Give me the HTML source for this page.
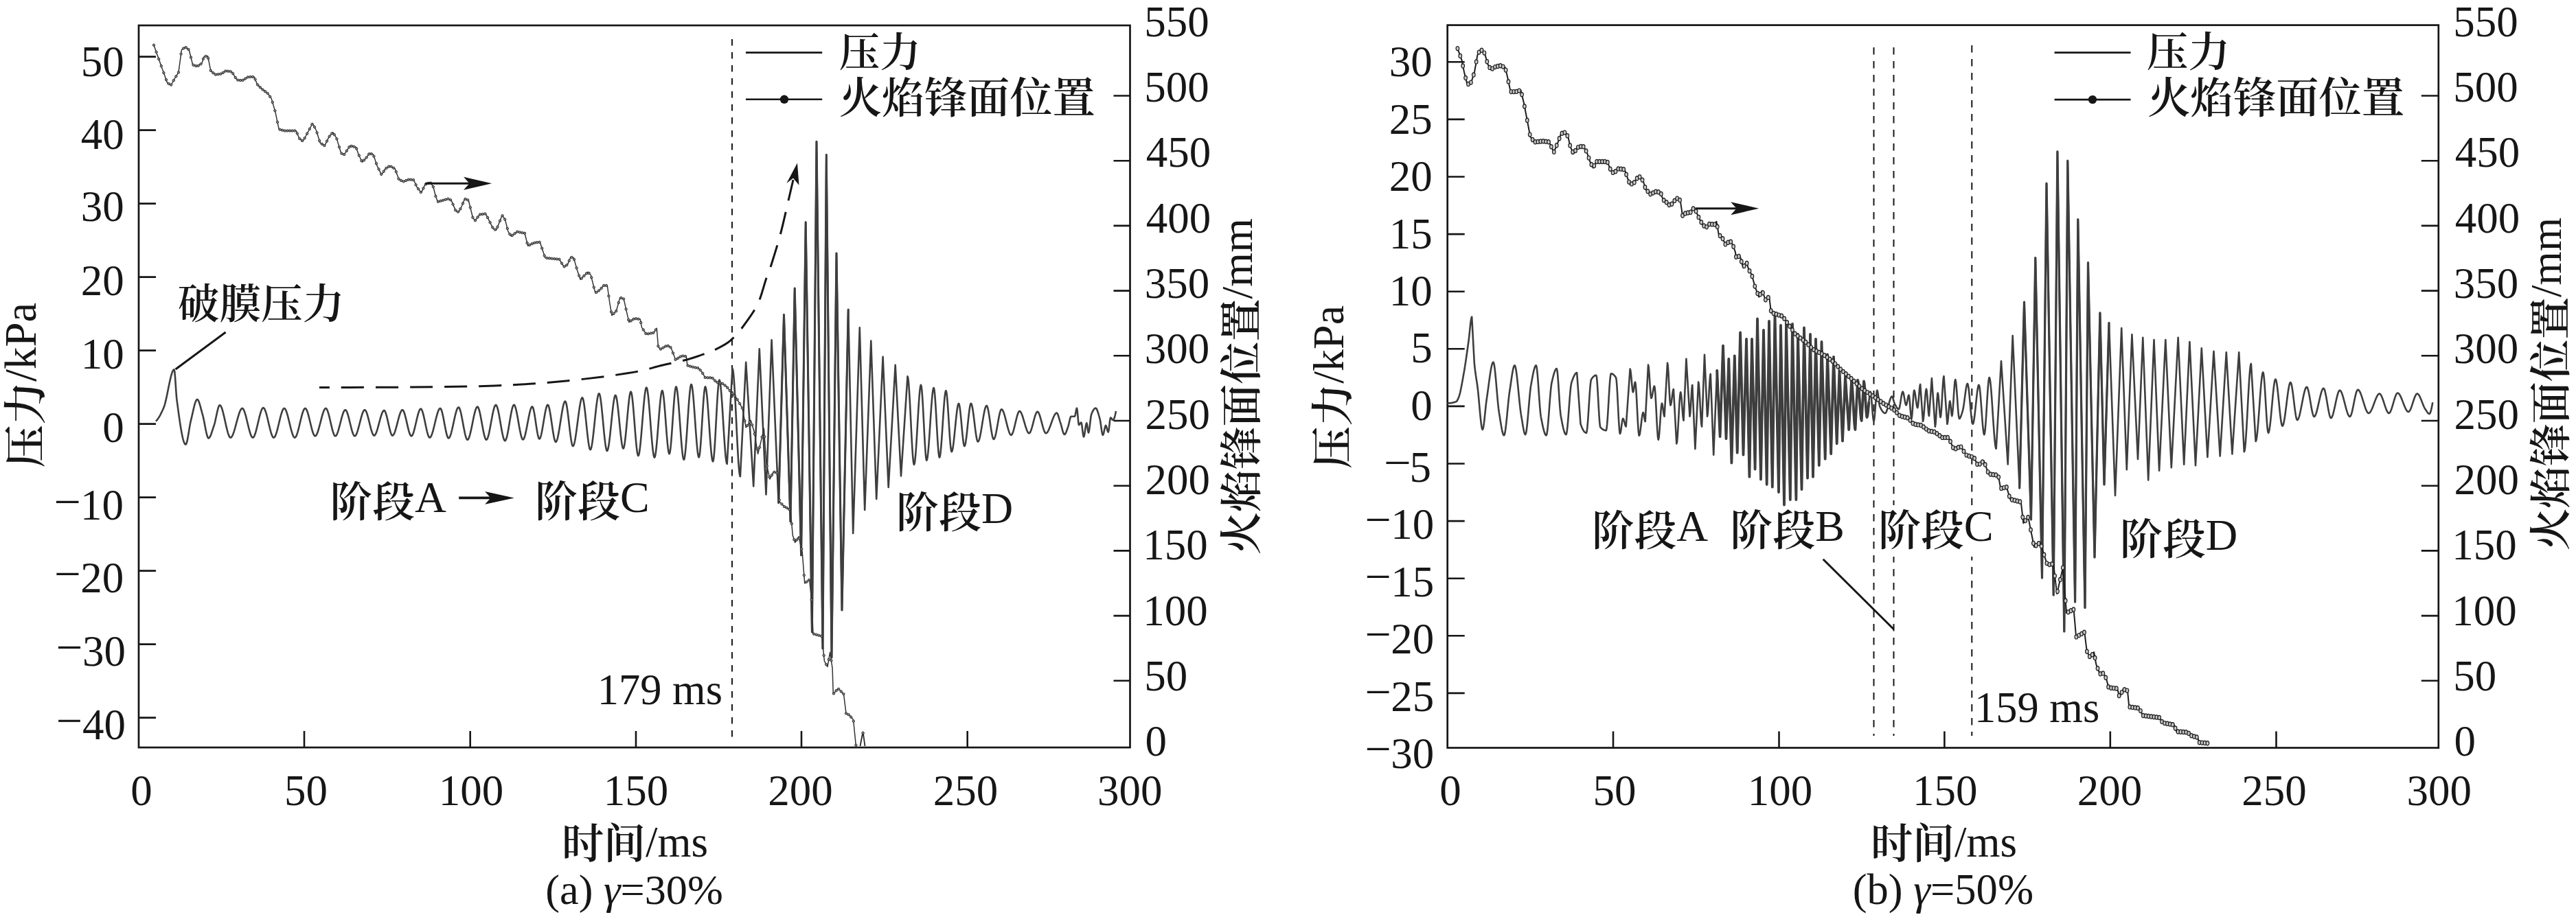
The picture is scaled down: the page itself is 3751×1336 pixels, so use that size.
<!DOCTYPE html><html><head><meta charset="utf-8"><title>figure</title><style>html,body{margin:0;padding:0;background:#fff;overflow:hidden}svg{display:block}</style></head><body><svg width="3751" height="1336" viewBox="0 0 3751 1336" font-family="'Liberation Serif', 'Noto Serif CJK SC', serif"><rect width="3751" height="1336" fill="#fff"/><rect x="202" y="37" width="1443.5" height="1052" fill="none" stroke="#161616" stroke-width="2.7"/>
<rect x="2107.7" y="36.6" width="1443.1" height="1052.9" fill="none" stroke="#161616" stroke-width="2.7"/>
<path d="M202,82.6h25 M202,189.6h25 M202,296.6h25 M202,403.6h25 M202,510.6h25 M202,617.6h25 M202,724.6h25 M202,831.6h25 M202,938.6h25 M202,1045.6h25 M443,1089v-24 M684.7,1089v-24 M926,1089v-24 M1167,1089v-24 M1408.7,1089v-24 M1645.5,991.8h-24 M3550.8,991.8h-25 M1645.5,897.1h-24 M3550.8,897.1h-25 M1645.5,802.4h-24 M3550.8,802.4h-25 M1645.5,707.7h-24 M3550.8,707.7h-25 M1645.5,613.0h-24 M3550.8,613.0h-25 M1645.5,518.3h-24 M3550.8,518.3h-25 M1645.5,423.6h-24 M3550.8,423.6h-25 M1645.5,328.9h-24 M3550.8,328.9h-25 M1645.5,234.2h-24 M3550.8,234.2h-25 M1645.5,139.5h-24 M3550.8,139.5h-25 M2107.7,90.3h25 M2107.7,173.9h25 M2107.7,257.5h25 M2107.7,341.1h25 M2107.7,424.7h25 M2107.7,508.3h25 M2107.7,591.9h25 M2107.7,675.5h25 M2107.7,759.1h25 M2107.7,842.7h25 M2107.7,926.3h25 M2107.7,1009.9h25 M2349,1089.5v-24 M2590.5,1089.5v-24 M2831.4,1089.5v-24 M3072.8,1089.5v-24 M3314.5,1089.5v-24" stroke="#161616" stroke-width="2.6" fill="none"/>
<line x1="1066" y1="57" x2="1066" y2="1078" stroke="#222" stroke-width="2.2" stroke-dasharray="9.6 9.4"/>
<line x1="2728.5" y1="69" x2="2728.5" y2="1072" stroke="#161616" stroke-width="2" stroke-dasharray="10.5 9.5"/>
<line x1="2757.5" y1="69" x2="2757.5" y2="1072" stroke="#161616" stroke-width="2" stroke-dasharray="10.5 9.5"/>
<line x1="2871.3" y1="66" x2="2871.3" y2="1072" stroke="#161616" stroke-width="2" stroke-dasharray="10.5 9.5"/>
<polyline points="226.9,613.7 227.6,613.0 228.3,612.3 229.0,611.4 229.7,610.5 230.4,609.5 231.1,608.4 231.8,607.3 232.5,606.1 233.2,604.8 233.9,603.5 234.6,602.1 235.3,600.7 236.0,599.2 236.7,597.7 237.4,596.1 238.1,594.6 238.3,594.1 239.0,592.3 239.7,590.1 240.4,587.7 241.1,584.9 241.8,581.9 242.5,578.7 243.2,575.4 243.9,572.0 244.6,568.5 245.3,565.1 246.0,561.6 246.7,558.2 247.4,555.0 248.1,551.9 248.8,549.0 249.5,546.4 250.2,544.1 250.9,542.1 251.6,540.5 252.3,539.3 253.0,538.6 253.6,538.4 254.3,541.5 255.0,549.3 255.7,559.7 256.4,570.4 257.1,579.2 257.4,581.9 258.1,587.2 258.8,592.4 259.5,597.6 260.2,602.7 260.9,607.7 261.6,612.6 262.3,617.2 263.0,621.7 263.7,625.9 264.4,629.8 265.1,633.4 265.8,636.7 266.5,639.6 267.2,642.1 267.9,644.2 268.6,645.8 269.3,646.9 270.0,647.5 270.4,647.6 271.1,647.0 271.8,645.3 272.5,642.7 273.2,639.3 273.9,635.5 274.6,631.3 275.3,626.9 276.0,622.6 276.7,618.6 277.4,615.0 278.0,612.4 278.7,609.6 279.4,606.6 280.1,603.5 280.8,600.4 281.5,597.3 282.2,594.3 282.9,591.5 283.6,588.9 284.3,586.6 285.0,584.7 285.7,583.3 286.4,582.3 287.1,581.9 287.2,581.9 287.9,582.2 288.6,583.1 289.3,584.5 290.0,586.3 290.7,588.5 291.4,590.9 292.1,593.4 292.8,596.1 293.5,598.7 294.2,601.3 294.8,603.3 295.5,605.9 296.2,608.9 296.9,612.3 297.6,615.8 298.3,619.5 299.0,623.2 299.7,626.7 300.4,630.0 301.1,632.9 301.8,635.3 302.5,637.1 303.2,638.2 303.7,638.4 304.4,638.2 305.1,637.4 305.8,636.3 306.5,634.9 307.2,633.2 307.9,631.3 308.6,629.2 309.3,627.0 310.0,624.8 310.7,622.6 311.4,620.6 311.6,620.0 312.3,617.8 313.0,615.1 313.7,612.0 314.4,608.8 315.1,605.5 315.8,602.2 316.5,599.1 317.2,596.3 317.9,593.8 318.6,592.0 319.3,590.7 320.0,590.3 320.7,590.6 321.4,591.4 322.1,592.6 322.8,594.3 323.5,596.3 324.2,598.6 324.9,601.2 325.6,604.1 326.3,607.0 327.0,610.1 327.7,613.3 328.4,616.4 329.1,619.6 329.8,622.6 330.5,625.5 331.2,628.2 331.9,630.6 332.6,632.8 333.3,634.6 334.0,636.1 334.7,637.0 335.4,637.5 335.7,637.6 336.4,637.4 337.1,636.8 337.8,635.8 338.5,634.5 339.2,633.0 339.9,631.1 340.6,629.1 341.3,626.9 342.0,624.5 342.7,622.0 343.4,619.4 344.1,616.8 344.8,614.2 345.5,611.6 346.2,609.1 346.9,606.6 347.6,604.3 348.3,602.2 349.0,600.3 349.7,598.6 350.4,597.2 351.1,596.1 351.8,595.3 352.5,594.9 352.8,594.9 353.5,595.2 354.2,595.9 354.9,597.1 355.6,598.7 356.3,600.6 357.0,602.8 357.7,605.2 358.4,607.9 359.1,610.7 359.8,613.5 360.5,616.5 361.2,619.4 361.9,622.2 362.6,625.0 363.3,627.6 364.0,630.0 364.7,632.2 365.4,634.1 366.1,635.6 366.8,636.7 367.5,637.4 368.1,637.6 368.8,637.3 369.5,636.6 370.2,635.4 370.9,633.8 371.6,631.8 372.3,629.6 373.0,627.1 373.7,624.4 374.4,621.5 375.1,618.6 375.8,615.6 376.5,612.7 377.2,609.7 377.9,606.9 378.6,604.3 379.3,601.8 380.0,599.6 380.7,597.7 381.4,596.1 382.1,595.0 382.8,594.3 383.4,594.1 384.1,594.4 384.8,595.1 385.5,596.4 386.2,598.0 386.9,600.0 387.6,602.2 388.3,604.7 389.0,607.5 389.7,610.3 390.4,613.3 391.1,616.3 391.8,619.3 392.5,622.2 393.2,625.0 393.9,627.7 394.6,630.1 395.3,632.3 396.0,634.2 396.7,635.7 397.4,636.8 398.1,637.5 398.6,637.6 399.3,637.3 400.0,636.6 400.7,635.4 401.4,633.8 402.1,631.9 402.8,629.7 403.5,627.3 404.2,624.6 404.9,621.8 405.6,619.0 406.3,616.0 407.0,613.1 407.7,610.3 408.4,607.5 409.1,604.9 409.8,602.5 410.5,600.3 411.2,598.4 411.9,596.9 412.6,595.8 413.3,595.1 413.9,594.9 414.6,595.2 415.3,595.9 416.0,597.1 416.7,598.7 417.4,600.6 418.1,602.8 418.8,605.2 419.5,607.9 420.2,610.7 420.9,613.5 421.6,616.5 422.3,619.4 423.0,622.2 423.7,625.0 424.4,627.6 425.1,630.0 425.8,632.2 426.5,634.1 427.2,635.6 427.9,636.7 428.6,637.4 429.2,637.6 429.9,637.3 430.6,636.6 431.3,635.4 432.0,633.8 432.7,631.9 433.4,629.6 434.1,627.1 434.8,624.5 435.5,621.7 436.2,618.8 436.9,615.8 437.6,612.9 438.3,610.0 439.0,607.2 439.7,604.6 440.4,602.2 441.1,600.1 441.8,598.2 442.5,596.7 443.2,595.7 443.9,595.0 444.4,594.9 445.1,595.2 445.8,596.0 446.5,597.2 447.2,598.8 447.9,600.8 448.6,603.1 449.3,605.6 450.0,608.3 450.7,611.2 451.4,614.1 452.1,617.0 452.8,619.9 453.5,622.7 454.2,625.3 454.9,627.8 455.6,630.0 456.3,631.9 457.0,633.4 457.7,634.5 458.4,635.2 458.9,635.3 459.6,635.1 460.3,634.4 461.0,633.3 461.7,631.8 462.4,630.1 463.1,628.0 463.8,625.7 464.5,623.3 465.2,620.7 465.9,618.0 466.6,615.3 467.3,612.6 468.0,609.9 468.7,607.3 469.4,604.8 470.1,602.5 470.8,600.4 471.5,598.6 472.2,597.1 472.9,596.0 473.6,595.2 474.3,594.9 474.4,594.9 475.1,595.2 475.8,596.0 476.5,597.4 477.2,599.2 477.9,601.3 478.6,603.7 479.3,606.4 480.0,609.3 480.7,612.3 481.4,615.3 482.1,618.4 482.8,621.3 483.5,624.2 484.2,626.8 484.9,629.2 485.6,631.3 486.3,633.0 487.0,634.3 487.7,635.1 488.3,635.3 489.0,635.0 489.7,634.3 490.4,633.1 491.1,631.6 491.8,629.7 492.5,627.6 493.2,625.2 493.9,622.6 494.6,620.0 495.3,617.2 496.0,614.5 496.7,611.8 497.4,609.1 498.1,606.6 498.8,604.3 499.5,602.2 500.2,600.4 500.9,599.0 501.6,597.9 502.3,597.3 502.8,597.2 503.5,597.5 504.2,598.3 504.9,599.6 505.6,601.3 506.3,603.3 507.0,605.6 507.7,608.2 508.4,610.9 509.1,613.8 509.8,616.7 510.5,619.5 511.2,622.4 511.9,625.1 512.6,627.6 513.3,629.8 514.0,631.8 514.7,633.3 515.4,634.5 516.1,635.2 516.6,635.3 517.3,635.0 518.0,634.3 518.7,633.1 519.4,631.6 520.1,629.7 520.8,627.6 521.5,625.2 522.2,622.6 522.9,620.0 523.6,617.2 524.3,614.5 525.0,611.8 525.7,609.1 526.4,606.6 527.1,604.3 527.8,602.2 528.5,600.4 529.2,599.0 529.9,597.9 530.6,597.3 531.1,597.2 531.8,597.5 532.5,598.3 533.2,599.6 533.9,601.2 534.6,603.3 535.3,605.6 536.0,608.1 536.7,610.8 537.4,613.7 538.1,616.5 538.8,619.4 539.5,622.1 540.2,624.8 540.9,627.2 541.6,629.4 542.3,631.3 543.0,632.8 543.7,633.9 544.4,634.5 544.8,634.6 545.5,634.4 546.2,633.6 546.9,632.5 547.6,631.0 548.3,629.2 549.0,627.2 549.7,624.9 550.4,622.4 551.1,619.9 551.8,617.2 552.5,614.6 553.2,612.0 553.9,609.4 554.6,607.0 555.3,604.8 556.0,602.8 556.7,601.1 557.4,599.7 558.1,598.7 558.8,598.1 559.3,598.0 560.0,598.3 560.7,599.3 561.4,600.9 562.1,602.9 562.8,605.3 563.5,608.0 564.2,611.0 564.9,614.1 565.6,617.2 566.3,620.3 567.0,623.3 567.7,626.2 568.4,628.7 569.1,630.9 569.8,632.7 570.5,633.9 571.2,634.5 571.5,634.6 572.2,634.3 572.9,633.6 573.6,632.5 574.3,631.0 575.0,629.1 575.7,627.0 576.4,624.7 577.1,622.2 577.8,619.6 578.5,616.9 579.2,614.2 579.9,611.5 580.6,608.9 581.3,606.4 582.0,604.2 582.7,602.1 583.4,600.4 584.1,599.0 584.8,597.9 585.5,597.3 586.0,597.2 586.7,597.5 587.4,598.4 588.1,599.9 588.8,601.7 589.5,604.0 590.2,606.6 590.9,609.4 591.6,612.3 592.3,615.4 593.0,618.4 593.7,621.5 594.4,624.4 595.1,627.1 595.8,629.5 596.5,631.6 597.2,633.3 597.9,634.5 598.6,635.2 599.0,635.3 599.7,635.0 600.4,634.1 601.1,632.8 601.8,631.0 602.5,628.9 603.2,626.4 603.9,623.7 604.6,620.8 605.3,617.8 606.0,614.8 606.7,611.8 607.4,608.8 608.1,606.0 608.8,603.4 609.5,601.1 610.2,599.1 610.9,597.5 611.6,596.3 612.3,595.7 612.7,595.6 613.4,596.0 614.1,597.0 614.8,598.5 615.5,600.6 616.2,603.1 616.9,605.9 617.6,609.0 618.3,612.3 619.0,615.6 619.7,619.0 620.4,622.3 621.1,625.5 621.8,628.5 622.5,631.2 623.2,633.5 623.9,635.4 624.6,636.7 625.3,637.5 625.7,637.6 626.4,637.3 627.1,636.6 627.8,635.4 628.5,633.8 629.2,631.9 629.9,629.7 630.6,627.3 631.3,624.6 632.0,621.8 632.7,619.0 633.4,616.0 634.1,613.1 634.8,610.3 635.5,607.5 636.2,604.9 636.9,602.5 637.6,600.3 638.3,598.4 639.0,596.9 639.7,595.8 640.4,595.1 641.0,594.9 641.7,595.3 642.4,596.5 643.1,598.3 643.8,600.7 644.5,603.6 645.2,606.8 645.9,610.3 646.6,614.0 647.3,617.7 648.0,621.4 648.7,625.0 649.4,628.4 650.1,631.4 650.8,634.0 651.5,636.1 652.2,637.6 652.9,638.3 653.2,638.4 653.9,638.1 654.6,637.2 655.3,635.8 656.0,634.0 656.7,631.8 657.4,629.3 658.1,626.5 658.8,623.4 659.5,620.3 660.2,617.1 660.9,613.8 661.6,610.6 662.3,607.5 663.0,604.5 663.7,601.8 664.4,599.3 665.1,597.2 665.8,595.5 666.5,594.3 667.2,593.6 667.7,593.4 668.4,593.8 669.1,594.9 669.8,596.7 670.5,599.0 671.2,601.8 671.9,605.0 672.6,608.5 673.3,612.2 674.0,616.0 674.7,619.8 675.4,623.5 676.1,627.1 676.8,630.5 677.5,633.5 678.2,636.1 678.9,638.2 679.6,639.7 680.3,640.6 680.7,640.7 681.4,640.4 682.1,639.4 682.8,638.0 683.5,636.0 684.2,633.6 684.9,630.9 685.6,627.9 686.3,624.7 687.0,621.4 687.7,617.9 688.4,614.4 689.1,611.0 689.8,607.6 690.5,604.5 691.2,601.6 691.9,598.9 692.6,596.7 693.3,594.9 694.0,593.5 694.7,592.8 695.2,592.6 695.9,593.0 696.6,594.2 697.3,596.0 698.0,598.3 698.7,601.2 699.4,604.4 700.1,607.9 700.8,611.7 701.5,615.5 702.2,619.4 702.9,623.2 703.6,626.9 704.3,630.3 705.0,633.4 705.7,636.0 706.4,638.2 707.1,639.7 707.8,640.6 708.2,640.7 708.9,640.3 709.6,639.2 710.3,637.5 711.0,635.3 711.7,632.6 712.4,629.5 713.1,626.1 713.8,622.4 714.5,618.6 715.2,614.8 715.9,611.0 716.6,607.2 717.3,603.6 718.0,600.3 718.7,597.3 719.4,594.7 720.1,592.6 720.8,591.1 721.5,590.2 722.0,590.0 722.7,590.4 723.4,591.6 724.1,593.4 724.8,595.9 725.5,598.8 726.2,602.1 726.9,605.8 727.6,609.7 728.3,613.7 729.0,617.8 729.7,621.8 730.4,625.8 731.1,629.4 731.8,632.8 732.5,635.8 733.2,638.3 733.9,640.3 734.6,641.6 735.3,642.1 735.4,642.1 736.1,641.7 736.8,640.4 737.5,638.4 738.2,635.9 738.9,632.8 739.6,629.3 740.3,625.4 741.0,621.3 741.7,617.2 742.4,612.9 743.1,608.8 743.8,604.8 744.5,601.1 745.2,597.7 745.9,594.9 746.6,592.5 747.3,590.9 748.0,589.9 748.4,589.8 749.1,590.2 749.8,591.4 750.5,593.3 751.2,595.7 751.9,598.7 752.6,602.1 753.3,605.7 754.0,609.6 754.7,613.7 755.4,617.7 756.1,621.7 756.8,625.5 757.5,629.1 758.2,632.4 758.9,635.2 759.6,637.5 760.3,639.2 761.0,640.2 761.5,640.4 762.2,640.0 762.9,639.0 763.6,637.3 764.3,635.1 765.0,632.4 765.7,629.4 766.4,626.0 767.1,622.5 767.8,618.8 768.5,615.1 769.2,611.4 769.9,607.8 770.6,604.4 771.3,601.2 772.0,598.5 772.7,596.1 773.4,594.3 774.1,593.0 774.8,592.4 775.0,592.4 775.7,593.0 776.4,594.7 777.1,597.4 777.8,600.8 778.5,604.8 779.2,609.2 779.9,613.9 780.6,618.7 781.3,623.3 782.0,627.7 782.7,631.6 783.4,634.9 784.1,637.5 784.8,639.0 785.4,639.5 786.1,639.0 786.8,637.7 787.5,635.6 788.2,632.8 788.9,629.6 789.6,625.9 790.3,621.9 791.0,617.7 791.7,613.4 792.4,609.2 793.1,605.1 793.8,601.3 794.5,597.8 795.2,594.8 795.9,592.4 796.6,590.7 797.3,589.9 797.6,589.8 798.3,590.4 799.0,591.9 799.7,594.4 800.4,597.6 801.1,601.4 801.8,605.7 802.5,610.3 803.2,615.1 803.9,620.0 804.6,624.7 805.3,629.3 806.0,633.4 806.7,637.1 807.4,640.1 808.1,642.3 808.8,643.6 809.3,643.9 810.0,643.5 810.7,642.2 811.4,640.1 812.1,637.5 812.8,634.3 813.5,630.6 814.2,626.6 814.9,622.3 815.6,617.8 816.3,613.3 817.0,608.8 817.7,604.4 818.4,600.2 819.1,596.3 819.8,592.8 820.5,589.8 821.2,587.4 821.9,585.7 822.6,584.7 823.0,584.6 823.7,585.3 824.4,587.4 825.1,590.5 825.8,594.7 826.5,599.5 827.2,605.0 827.9,610.8 828.6,616.9 829.3,622.9 830.0,628.8 830.7,634.3 831.4,639.3 832.1,643.5 832.8,646.8 833.5,649.1 834.2,650.0 834.3,650.0 835.0,649.5 835.7,647.9 836.4,645.5 837.1,642.2 837.8,638.4 838.5,633.9 839.2,629.1 839.9,623.9 840.6,618.5 841.3,613.1 842.0,607.7 842.7,602.4 843.4,597.4 844.1,592.8 844.8,588.6 845.5,585.1 846.2,582.3 846.9,580.4 847.6,579.4 847.9,579.3 848.6,580.1 849.3,582.3 850.0,585.8 850.7,590.3 851.4,595.6 852.1,601.6 852.8,608.1 853.5,614.8 854.2,621.6 854.9,628.3 855.6,634.7 856.3,640.5 857.0,645.6 857.7,649.8 858.4,653.0 859.1,654.8 859.6,655.2 860.3,654.5 861.0,652.4 861.7,649.2 862.4,645.0 863.1,639.9 863.8,634.2 864.5,628.0 865.2,621.4 865.9,614.7 866.6,607.9 867.3,601.3 868.0,595.0 868.7,589.2 869.4,584.1 870.1,579.7 870.8,576.4 871.5,574.1 872.2,573.2 872.3,573.2 873.0,574.1 873.7,576.5 874.4,580.3 875.1,585.3 875.8,591.2 876.5,597.8 877.2,605.0 877.9,612.4 878.6,619.9 879.3,627.3 880.0,634.3 880.7,640.8 881.4,646.4 882.1,651.1 882.8,654.5 883.5,656.6 884.0,657.0 884.7,656.2 885.4,654.0 886.1,650.6 886.8,646.1 887.5,640.8 888.2,634.8 888.9,628.2 889.6,621.4 890.3,614.4 891.0,607.5 891.7,600.8 892.4,594.5 893.1,588.9 893.8,584.0 894.5,580.1 895.2,577.3 895.9,575.9 896.2,575.8 896.9,576.6 897.6,579.0 898.3,582.7 899.0,587.6 899.7,593.3 900.4,599.7 901.1,606.5 901.8,613.6 902.5,620.8 903.2,627.7 903.9,634.3 904.6,640.2 905.3,645.3 906.0,649.3 906.7,652.1 907.4,653.4 907.6,653.5 908.3,652.5 909.0,649.8 909.7,645.6 910.4,640.1 911.1,633.7 911.8,626.5 912.5,618.8 913.2,610.9 913.9,603.1 914.6,595.5 915.3,588.5 916.0,582.3 916.7,577.2 917.4,573.3 918.1,571.1 918.6,570.6 919.3,571.7 920.0,574.9 920.7,579.8 921.4,586.2 922.1,593.7 922.8,602.0 923.5,610.8 924.2,619.9 924.9,628.9 925.6,637.4 926.3,645.3 927.0,652.2 927.7,657.8 928.4,661.7 929.1,663.8 929.4,664.0 930.1,663.0 930.8,660.2 931.5,655.8 932.2,650.1 932.9,643.2 933.6,635.6 934.3,627.3 935.0,618.6 935.7,609.9 936.4,601.2 937.1,592.9 937.8,585.3 938.5,578.4 939.2,572.7 939.9,568.3 940.6,565.5 941.3,564.5 942.0,565.6 942.7,568.5 943.4,573.2 944.1,579.2 944.8,586.4 945.5,594.5 946.2,603.2 946.9,612.2 947.6,621.4 948.3,630.3 949.0,638.9 949.7,646.7 950.4,653.6 951.1,659.3 951.8,663.5 952.5,666.0 953.0,666.5 953.7,665.4 954.4,662.4 955.1,657.6 955.8,651.5 956.5,644.2 957.2,636.1 957.9,627.4 958.6,618.4 959.3,609.4 960.0,600.6 960.7,592.4 961.4,585.0 962.1,578.6 962.8,573.7 963.5,570.4 964.2,569.0 964.3,569.0 965.0,570.2 965.7,573.6 966.4,578.9 967.1,585.7 967.8,593.7 968.5,602.5 969.2,611.7 969.9,621.1 970.6,630.3 971.3,638.9 972.0,646.5 972.7,652.9 973.4,657.7 974.1,660.6 974.6,661.2 975.3,659.8 976.0,655.9 976.7,649.9 977.4,642.2 978.1,633.2 978.8,623.3 979.5,613.0 980.2,602.7 980.9,592.8 981.6,583.7 982.3,575.7 983.0,569.5 983.7,565.2 984.4,563.4 984.5,563.4 985.2,564.6 985.9,567.9 986.6,573.1 987.3,579.8 988.0,587.7 988.7,596.6 989.4,606.1 990.1,615.9 990.8,625.7 991.5,635.3 992.2,644.3 992.9,652.4 993.6,659.3 994.3,664.7 995.0,668.3 995.7,669.8 995.8,669.8 996.5,668.5 997.2,664.7 997.9,659.0 998.6,651.5 999.3,642.7 1000.0,632.9 1000.7,622.5 1001.4,611.9 1002.1,601.3 1002.8,591.2 1003.5,581.9 1004.2,573.9 1004.9,567.3 1005.6,562.6 1006.3,560.2 1006.6,560.0 1007.3,561.2 1008.0,564.6 1008.7,570.0 1009.4,576.9 1010.1,585.0 1010.8,594.1 1011.5,603.9 1012.2,613.9 1012.9,623.9 1013.6,633.5 1014.3,642.5 1015.0,650.5 1015.7,657.2 1016.4,662.3 1017.1,665.4 1017.7,666.3 1018.4,664.6 1019.1,660.0 1019.8,652.9 1020.5,643.9 1021.2,633.5 1021.9,622.3 1022.6,610.7 1023.3,599.3 1024.0,588.6 1024.7,579.2 1025.4,571.5 1026.1,566.1 1026.8,563.5 1027.0,563.4 1027.7,564.6 1028.4,568.2 1029.1,573.6 1029.8,580.7 1030.5,589.1 1031.2,598.4 1031.9,608.4 1032.6,618.6 1033.3,628.9 1034.0,638.8 1034.7,648.0 1035.4,656.2 1036.1,663.1 1036.8,668.3 1037.5,671.5 1038.1,672.4 1038.8,670.5 1039.5,665.3 1040.2,657.3 1040.9,647.1 1041.6,635.3 1042.3,622.4 1043.0,609.2 1043.7,596.1 1044.4,583.8 1045.1,572.9 1045.8,563.9 1046.5,557.3 1047.2,554.0 1047.5,553.6 1048.2,555.0 1048.9,558.9 1049.6,564.9 1050.3,572.7 1051.0,582.0 1051.7,592.3 1052.4,603.3 1053.1,614.8 1053.8,626.2 1054.5,637.2 1055.2,647.5 1055.9,656.8 1056.6,664.6 1057.3,670.6 1058.0,674.5 1058.7,675.9 1058.7,675.9 1066.5,537.0 1067.2,538.7 1067.9,543.5 1068.6,551.0 1069.3,560.8 1070.0,572.4 1070.7,585.3 1071.4,599.2 1072.1,613.5 1072.8,628.0 1073.5,642.0 1074.2,655.3 1074.9,667.3 1075.6,677.6 1076.3,685.8 1077.0,691.4 1077.7,694.1 1077.9,694.2 1086.2,527.9 1097.2,708.4 1105.8,508.3 1115.5,720.4 1123.6,495.2 1133.7,733.0 1141.5,458.6 1151.0,760.0 1157.2,420.0 1166.6,809.0 1173.2,323.8 1182.4,921.0 1189.0,206.3 1198.0,945.0 1203.3,225.6 1211.0,958.0 1218.0,369.0 1226.0,889.0 1235.2,450.7 1242.2,777.0 1251.8,477.2 1259.2,743.0 1268.3,496.6 1276.2,727.0 1285.6,519.7 1293.7,710.0 1303.7,531.9 1312.0,693.5 1321.5,548.4 1322.2,550.4 1322.9,555.9 1323.6,564.5 1324.3,575.3 1325.0,587.9 1325.7,601.5 1326.4,615.7 1327.1,629.7 1327.8,643.0 1328.5,654.9 1329.2,664.8 1329.9,672.1 1330.6,676.2 1331.0,676.9 1331.7,675.3 1332.4,670.7 1333.1,663.7 1333.8,654.7 1334.5,644.2 1335.2,632.7 1335.9,620.6 1336.6,608.5 1337.3,596.8 1338.0,586.0 1338.7,576.5 1339.4,568.9 1340.1,563.5 1340.8,561.0 1341.0,560.9 1341.7,563.1 1342.4,569.2 1343.1,578.4 1343.8,590.0 1344.5,603.0 1345.2,616.8 1345.9,630.5 1346.6,643.4 1347.3,654.6 1348.0,663.5 1348.7,669.1 1349.3,670.7 1350.0,669.3 1350.7,665.4 1351.4,659.3 1352.1,651.5 1352.8,642.4 1353.5,632.3 1354.2,621.7 1354.9,610.9 1355.6,600.4 1356.3,590.6 1357.0,581.8 1357.7,574.5 1358.4,569.0 1359.1,565.7 1359.6,565.0 1360.3,567.0 1361.0,572.5 1361.7,580.9 1362.4,591.3 1363.1,603.2 1363.8,615.8 1364.5,628.3 1365.2,640.2 1365.9,650.6 1366.6,659.0 1367.3,664.5 1368.0,666.5 1368.0,666.5 1368.7,665.0 1369.4,660.7 1370.1,654.1 1370.8,645.7 1371.5,636.1 1372.2,625.6 1372.9,614.7 1373.6,604.0 1374.3,594.0 1375.0,585.0 1375.7,577.6 1376.4,572.3 1377.1,569.5 1377.4,569.2 1378.1,571.0 1378.8,575.9 1379.5,583.4 1380.2,592.8 1380.9,603.3 1381.6,614.5 1382.3,625.6 1383.0,636.1 1383.7,645.2 1384.4,652.3 1385.1,656.9 1385.7,658.2 1386.4,657.3 1387.1,654.7 1387.8,650.6 1388.5,645.4 1389.2,639.3 1389.9,632.6 1390.6,625.6 1391.3,618.4 1392.0,611.4 1392.7,604.8 1393.4,599.0 1394.1,594.1 1394.8,590.4 1395.5,588.3 1396.0,587.8 1396.7,589.0 1397.4,592.4 1398.1,597.5 1398.8,603.9 1399.5,611.2 1400.2,618.9 1400.9,626.6 1401.6,633.9 1402.3,640.3 1403.0,645.4 1403.7,648.8 1404.4,650.0 1404.4,650.0 1405.1,649.0 1405.8,646.3 1406.5,642.2 1407.2,637.0 1407.9,630.9 1408.6,624.3 1409.3,617.4 1410.0,610.6 1410.7,604.2 1411.4,598.5 1412.1,593.7 1412.8,590.1 1413.5,588.1 1413.9,587.8 1414.6,588.6 1415.3,590.7 1416.0,594.0 1416.7,598.3 1417.4,603.2 1418.1,608.7 1418.8,614.4 1419.5,620.2 1420.2,625.8 1420.9,631.0 1421.6,635.6 1422.3,639.3 1423.0,642.0 1423.7,643.4 1424.0,643.5 1424.7,643.0 1425.4,641.7 1426.1,639.6 1426.8,636.9 1427.5,633.6 1428.2,629.9 1428.9,625.9 1429.6,621.6 1430.3,617.2 1431.0,612.9 1431.7,608.6 1432.4,604.6 1433.1,600.9 1433.8,597.6 1434.5,594.9 1435.2,592.8 1435.9,591.5 1436.6,591.0 1437.3,591.6 1438.0,593.4 1438.7,596.2 1439.4,599.7 1440.1,603.9 1440.8,608.5 1441.5,613.4 1442.2,618.3 1442.9,623.2 1443.6,627.7 1444.3,631.8 1445.0,635.3 1445.7,637.9 1446.4,639.5 1447.0,640.0 1447.7,639.5 1448.4,638.2 1449.1,636.1 1449.8,633.4 1450.5,630.2 1451.2,626.6 1451.9,622.7 1452.6,618.7 1453.3,614.7 1454.0,610.8 1454.7,607.1 1455.4,603.8 1456.1,600.9 1456.8,598.6 1457.5,597.1 1458.2,596.3 1458.4,596.3 1459.1,596.6 1459.8,597.4 1460.5,598.6 1461.2,600.2 1461.9,602.2 1462.6,604.4 1463.3,606.9 1464.0,609.5 1464.7,612.2 1465.4,615.1 1466.1,617.9 1466.8,620.6 1467.5,623.2 1468.2,625.7 1468.9,627.9 1469.6,629.9 1470.3,631.5 1471.0,632.8 1471.7,633.5 1472.4,633.8 1473.1,633.5 1473.8,632.5 1474.5,631.1 1475.2,629.1 1475.9,626.9 1476.6,624.3 1477.3,621.5 1478.0,618.5 1478.7,615.5 1479.4,612.6 1480.1,609.7 1480.8,607.0 1481.5,604.6 1482.2,602.5 1482.9,600.8 1483.6,599.7 1484.3,599.1 1484.6,599.0 1485.3,599.2 1486.0,599.9 1486.7,601.0 1487.4,602.4 1488.1,604.1 1488.8,606.0 1489.5,608.2 1490.2,610.5 1490.9,612.8 1491.6,615.3 1492.3,617.7 1493.0,620.1 1493.7,622.3 1494.4,624.4 1495.1,626.4 1495.8,628.0 1496.5,629.4 1497.2,630.4 1497.9,631.0 1498.5,631.2 1499.2,630.9 1499.9,630.1 1500.6,628.7 1501.3,627.0 1502.0,624.9 1502.7,622.6 1503.4,620.1 1504.1,617.4 1504.8,614.7 1505.5,612.1 1506.2,609.5 1506.9,607.0 1507.6,604.9 1508.3,603.0 1509.0,601.5 1509.7,600.4 1510.4,599.9 1510.7,599.8 1511.4,600.1 1512.1,600.9 1512.8,602.2 1513.5,603.9 1514.2,606.0 1514.9,608.3 1515.6,610.8 1516.3,613.4 1517.0,616.1 1517.7,618.7 1518.4,621.3 1519.1,623.7 1519.8,625.9 1520.5,627.8 1521.2,629.4 1521.9,630.5 1522.6,631.1 1523.0,631.2 1523.7,631.0 1524.4,630.5 1525.1,629.8 1525.8,628.7 1526.5,627.4 1527.2,626.0 1527.9,624.3 1528.6,622.6 1529.3,620.7 1530.0,618.8 1530.7,616.8 1531.4,614.8 1532.1,612.9 1532.8,611.0 1533.5,609.2 1534.2,607.5 1534.9,606.0 1535.6,604.6 1536.3,603.5 1537.0,602.6 1537.7,601.9 1538.4,601.6 1538.7,601.6 1539.4,602.0 1540.1,603.2 1540.8,605.0 1541.5,607.2 1542.2,609.6 1542.9,612.0 1543.6,614.3 1544.0,615.5 1544.7,617.7 1545.4,620.2 1546.1,622.9 1546.8,625.6 1547.5,628.1 1548.2,630.3 1548.9,631.9 1549.6,632.8 1550.0,633.0 1550.7,632.7 1551.4,631.8 1552.1,630.4 1552.8,628.7 1553.5,626.7 1554.2,624.7 1554.9,622.7 1555.3,621.6 1556.0,619.2 1556.7,616.2 1557.4,613.0 1558.1,610.0 1558.8,607.8 1559.5,606.8 1559.6,606.8 1560.3,606.8 1561.0,606.8 1561.7,606.8 1562.4,606.8 1563.1,606.8 1563.8,606.8 1564.5,606.8 1564.9,606.8 1565.6,605.2 1566.3,601.6 1567.0,597.6 1567.7,594.9 1568.0,594.6 1568.7,598.0 1569.4,605.6 1570.1,613.7 1570.8,618.7 1571.0,619.0 1571.7,618.6 1572.4,617.7 1573.1,616.6 1573.8,615.8 1574.4,615.5 1575.1,617.6 1575.8,622.6 1576.5,628.6 1577.2,633.8 1577.9,636.5 1578.0,636.5 1578.7,635.1 1579.4,631.5 1580.1,626.8 1580.8,622.0 1581.5,618.2 1582.2,616.4 1582.3,616.4 1583.0,618.7 1583.7,623.8 1584.4,628.6 1585.0,630.4 1585.7,628.7 1586.4,624.4 1587.1,618.6 1587.8,612.4 1588.5,607.0 1589.2,603.6 1589.3,603.3 1590.0,601.7 1590.7,600.1 1591.4,598.7 1592.1,597.5 1592.8,596.5 1593.5,595.6 1594.2,595.0 1594.9,594.7 1595.4,594.6 1596.1,594.9 1596.8,595.8 1597.5,597.2 1598.2,599.0 1598.9,601.1 1599.6,603.5 1600.3,606.0 1601.0,608.5 1601.5,610.3 1602.2,613.6 1602.9,618.2 1603.6,623.3 1604.3,628.0 1605.0,631.8 1605.7,633.7 1605.9,633.8 1606.6,632.8 1607.3,630.3 1608.0,627.1 1608.7,623.8 1609.4,621.2 1610.1,619.9 1610.2,619.9 1610.9,620.9 1611.6,623.3 1612.3,626.1 1613.0,628.5 1613.7,629.5 1614.4,627.3 1615.1,622.1 1615.8,615.9 1616.5,610.7 1617.2,608.5 1617.9,608.9 1618.6,609.7 1619.3,610.8 1620.0,611.6 1620.7,612.0 1621.4,611.6 1622.1,610.4 1622.8,608.5 1623.5,606.0 1624.2,603.0 1624.9,599.5 1625.0,599.0" fill="none" stroke="#3e3e3e" stroke-width="2.6" stroke-linejoin="round"/>
<polyline points="2107.5,587.5 2108.2,587.5 2108.9,587.5 2109.6,587.4 2110.3,587.4 2111.0,587.3 2111.7,587.3 2112.4,587.2 2113.1,587.1 2113.8,587.0 2114.5,586.8 2115.2,586.7 2115.9,586.5 2116.6,586.3 2117.3,586.2 2118.0,585.9 2118.7,585.7 2119.4,585.5 2120.1,585.2 2120.4,585.1 2121.1,584.6 2121.8,583.7 2122.5,582.4 2123.2,580.9 2123.9,579.3 2124.0,579.1 2124.7,577.2 2125.4,574.9 2126.1,572.1 2126.8,569.0 2127.5,565.6 2128.2,562.0 2128.9,558.3 2129.6,554.4 2130.3,550.5 2131.0,546.6 2131.2,545.5 2131.9,541.5 2132.6,537.3 2133.3,532.9 2134.0,528.4 2134.7,523.7 2135.4,518.8 2136.1,513.9 2136.8,509.0 2137.5,504.0 2138.2,499.0 2138.4,497.6 2139.1,491.9 2139.8,485.2 2140.5,478.3 2141.2,471.7 2141.9,466.3 2142.6,462.7 2143.2,461.6 2146.8,528.7 2147.5,535.7 2148.2,541.5 2148.9,546.5 2149.6,551.1 2150.3,555.5 2151.0,560.2 2151.6,564.7 2152.3,570.9 2153.0,578.0 2153.7,585.6 2154.4,593.6 2155.1,601.4 2155.8,608.7 2156.5,615.1 2157.2,620.4 2157.9,624.1 2158.6,625.8 2158.8,625.9 2159.5,624.7 2160.2,621.4 2160.9,616.5 2161.6,610.4 2162.3,603.7 2163.0,596.8 2163.7,590.2 2164.4,584.3 2164.8,581.5 2165.5,576.8 2166.2,571.8 2166.9,566.6 2167.6,561.4 2168.3,556.1 2169.0,551.0 2169.7,546.1 2170.4,541.6 2171.1,537.5 2171.8,534.0 2172.5,531.2 2173.2,529.1 2173.9,527.9 2174.4,527.6 2175.1,528.7 2175.8,531.8 2176.5,536.6 2177.2,542.8 2177.9,550.0 2178.6,557.8 2179.3,566.0 2180.0,574.2 2180.7,582.2 2181.4,589.4 2182.1,595.7 2182.8,600.7 2182.8,600.7 2183.5,605.0 2184.2,609.5 2184.9,614.0 2185.6,618.3 2186.3,622.4 2187.0,626.1 2187.7,629.2 2188.4,631.7 2189.1,633.4 2189.8,634.3 2190.0,634.3 2190.7,633.3 2191.4,630.6 2192.1,626.4 2192.8,621.0 2193.5,614.7 2194.2,607.8 2194.9,600.5 2195.6,593.2 2196.3,586.1 2197.0,579.5 2197.7,573.7 2198.3,569.5 2199.0,565.0 2199.7,560.2 2200.4,555.3 2201.1,550.5 2201.8,546.0 2202.5,541.8 2203.2,538.2 2203.9,535.3 2204.6,533.3 2205.3,532.4 2205.5,532.3 2206.2,533.1 2206.9,535.5 2207.6,539.3 2208.3,544.1 2209.0,549.8 2209.7,556.3 2210.4,563.1 2211.1,570.3 2211.8,577.5 2212.5,584.5 2213.2,591.1 2213.9,597.2 2214.6,602.4 2215.1,605.5 2215.8,609.6 2216.5,613.9 2217.2,618.3 2217.9,622.4 2218.6,626.1 2219.3,629.3 2220.0,631.6 2220.7,632.9 2221.1,633.1 2221.8,631.9 2222.5,628.7 2223.2,623.7 2223.9,617.4 2224.6,610.1 2225.3,602.0 2226.0,593.7 2226.7,585.4 2227.4,577.6 2228.1,570.4 2228.8,564.4 2229.5,559.9 2229.5,559.9 2230.2,556.2 2230.9,552.4 2231.6,548.7 2232.3,545.1 2233.0,541.8 2233.7,538.8 2234.4,536.3 2235.1,534.3 2235.8,533.0 2236.5,532.3 2236.7,532.3 2237.4,534.0 2238.1,538.6 2238.8,545.6 2239.5,554.2 2240.2,564.0 2240.9,574.2 2241.6,584.1 2242.3,593.3 2243.0,601.1 2243.7,606.7 2243.9,607.9 2244.6,611.5 2245.3,615.1 2246.0,618.5 2246.7,621.7 2247.4,624.7 2248.1,627.4 2248.8,629.7 2249.5,631.6 2250.2,633.1 2250.9,634.0 2251.6,634.3 2252.3,632.8 2253.0,628.8 2253.7,622.7 2254.4,615.0 2255.1,606.2 2255.8,596.8 2256.5,587.3 2257.2,578.3 2257.9,570.1 2258.6,563.3 2259.3,558.5 2259.5,557.5 2260.2,554.5 2260.9,551.5 2261.6,548.7 2262.3,546.1 2263.0,543.7 2263.7,541.6 2264.4,539.8 2265.1,538.5 2265.8,537.5 2266.5,537.1 2266.7,537.1 2267.4,539.3 2268.1,545.1 2268.8,553.7 2269.5,564.0 2270.2,575.0 2270.9,585.8 2271.6,595.4 2272.3,602.7 2272.7,605.5 2273.4,609.4 2274.1,613.1 2274.8,616.7 2275.5,620.1 2276.2,623.2 2276.9,626.0 2277.6,628.4 2278.3,630.4 2279.0,631.9 2279.7,632.8 2280.4,633.1 2280.4,633.1 2281.1,631.6 2281.8,627.4 2282.5,621.2 2283.2,613.3 2283.9,604.4 2284.6,594.9 2285.3,585.5 2286.0,576.5 2286.7,568.7 2287.4,562.4 2288.1,558.2 2288.3,557.5 2289.0,555.4 2289.7,553.4 2290.4,551.5 2291.1,549.8 2291.8,548.2 2292.5,546.8 2293.2,545.6 2293.9,544.6 2294.6,543.8 2295.3,543.3 2296.0,543.1 2296.2,543.1 2301.5,617.5 2302.2,619.5 2302.9,621.4 2303.6,623.1 2304.3,624.7 2305.0,626.0 2305.7,627.3 2306.4,628.3 2307.1,629.1 2307.8,629.8 2308.5,630.3 2309.2,630.6 2309.9,630.7 2309.9,630.7 2310.6,628.7 2311.3,623.3 2312.0,615.3 2312.7,605.5 2313.4,594.7 2314.1,583.6 2314.8,573.1 2315.5,564.0 2316.2,557.1 2316.9,553.2 2317.1,552.7 2317.8,551.7 2318.5,550.7 2319.2,549.8 2319.9,549.1 2320.6,548.4 2321.3,547.8 2322.0,547.4 2322.7,547.0 2323.4,546.8 2324.1,546.7 2324.3,546.7 2325.0,549.5 2325.7,556.8 2326.4,567.5 2327.1,579.9 2327.8,592.9 2328.5,605.0 2329.2,614.8 2329.9,620.9 2330.3,622.3 2331.0,623.1 2331.7,623.8 2332.4,624.4 2333.1,625.0 2333.8,625.5 2334.5,625.9 2335.2,626.3 2335.9,626.6 2336.6,626.8 2337.3,627.0 2338.0,627.1 2338.7,627.1 2339.4,624.9 2340.1,618.9 2340.8,610.1 2341.5,599.3 2342.2,587.4 2342.9,575.4 2343.6,564.2 2344.3,554.7 2345.0,547.9 2345.7,544.5 2345.9,544.3 2346.6,544.4 2347.3,544.5 2348.0,544.8 2348.7,545.2 2349.4,545.8 2350.1,546.4 2350.8,547.1 2351.5,548.0 2352.2,548.9 2352.9,550.0 2353.1,550.3 2353.8,554.4 2354.5,563.2 2355.2,575.4 2355.9,589.2 2356.6,603.3 2357.3,616.0 2358.0,625.9 2358.7,631.3 2359.0,631.9 2359.7,630.3 2360.4,626.4 2361.1,621.2 2361.8,615.9 2362.5,611.7 2363.2,609.7 2363.3,609.7 2364.0,610.5 2364.7,612.5 2365.4,615.2 2366.1,618.0 2366.8,620.2 2367.5,621.4 2367.7,621.5 2373.6,537.5 2374.3,539.8 2375.0,545.6 2375.7,553.3 2376.4,561.2 2377.1,567.7 2377.8,571.2 2378.0,571.4 2378.7,569.4 2379.4,564.7 2380.1,559.8 2380.8,556.8 2381.0,556.6 2381.7,559.7 2382.4,568.1 2383.1,579.9 2383.8,593.6 2384.5,607.6 2385.2,620.1 2385.9,629.6 2386.6,634.4 2386.8,634.7 2387.5,633.4 2388.2,629.9 2388.9,624.9 2389.6,619.0 2390.3,613.1 2391.0,607.6 2391.7,603.4 2392.4,601.1 2392.7,600.8 2393.4,602.6 2394.1,606.8 2394.8,611.2 2395.5,613.9 2395.7,614.1 2400.0,531.6 2400.7,534.8 2401.4,542.8 2402.1,553.5 2402.8,564.6 2403.5,574.1 2404.2,579.6 2404.5,580.2 2405.2,579.0 2405.9,576.1 2406.6,572.2 2407.3,568.2 2408.0,564.7 2408.7,562.7 2409.0,562.5 2409.7,565.6 2410.4,574.0 2411.1,585.8 2411.8,599.5 2412.5,613.5 2413.2,626.0 2413.9,635.5 2414.6,640.3 2414.8,640.6 2415.5,638.0 2416.2,631.1 2416.9,621.6 2417.6,611.0 2418.3,600.9 2419.0,592.7 2419.7,588.1 2420.0,587.6 2420.7,589.5 2421.4,594.0 2422.1,599.5 2422.8,604.3 2423.5,606.7 2423.6,606.7 2428.0,528.7 2428.7,532.7 2429.4,542.9 2430.1,556.5 2430.8,570.7 2431.5,582.7 2432.2,589.7 2432.5,590.5 2433.2,588.9 2433.9,584.9 2434.6,579.6 2435.3,574.1 2436.0,569.5 2436.7,567.1 2436.9,567.0 2441.3,646.5 2442.0,643.6 2442.7,635.8 2443.4,624.7 2444.1,611.8 2444.8,598.6 2445.5,586.5 2446.2,577.1 2446.9,572.0 2447.2,571.4 2447.9,574.2 2448.6,581.3 2449.3,590.6 2450.0,600.2 2450.7,608.1 2451.4,612.4 2451.6,612.6 2455.4,522.8 2460.5,606.7 2461.2,602.6 2461.9,592.7 2462.6,580.3 2463.3,568.8 2464.0,561.8 2464.3,561.0 2468.4,653.9 2473.1,556.6 2473.8,560.1 2474.5,569.0 2475.2,581.3 2475.9,594.9 2476.6,607.5 2477.3,617.0 2478.0,621.4 2478.1,621.5 2482.0,516.9 2486.0,606.7 2486.7,603.1 2487.4,594.0 2488.1,581.6 2488.8,568.1 2489.5,556.0 2490.2,547.6 2490.8,544.9 2495.2,662.7 2500.2,539.0 2504.6,636.2 2509.0,503.6 2513.5,639.1 2517.3,522.8 2521.4,674.5 2525.8,518.4 2529.7,659.7 2534.1,484.5 2538.5,662.7 2543.0,494.0 2547.4,694.7 2551.0,494.0 2555.6,683.5 2559.0,464.5 2564.0,698.4 2568.0,481.0 2572.7,705.8 2576.0,468.0 2580.8,709.5 2584.5,457.0 2590.0,717.0 2593.0,474.0 2598.0,735.5 2601.0,470.0 2606.8,728.0 2610.0,472.0 2615.4,728.0 2618.0,487.0 2623.5,713.0 2627.0,477.5 2632.0,696.5 2636.0,487.0 2640.0,694.7 2644.0,494.0 2648.8,678.0 2652.5,498.0 2657.7,668.7 2661.0,516.5 2666.2,661.3 2670.0,520.0 2674.7,646.4 2678.5,539.0 2683.0,642.7 2687.0,548.0 2692.2,626.0 2696.0,555.5 2696.7,558.6 2697.4,566.9 2698.1,578.5 2698.8,591.7 2699.5,604.8 2700.2,616.0 2700.9,623.7 2701.5,626.0 2705.0,553.6 2705.7,556.1 2706.4,562.6 2707.1,571.8 2707.8,582.5 2708.5,593.3 2709.2,602.8 2709.9,609.8 2710.6,612.9 2710.7,613.0 2714.0,555.5 2714.7,558.8 2715.4,567.1 2716.1,578.3 2716.8,590.2 2717.5,600.4 2718.2,606.9 2718.6,608.0 2719.3,605.9 2720.0,600.6 2720.7,593.3 2721.4,585.4 2722.1,578.1 2722.8,572.8 2723.5,570.7 2723.5,570.7 2724.2,573.0 2724.9,578.9 2725.6,587.1 2726.3,596.1 2727.0,604.5 2727.7,610.8 2728.4,613.7 2728.5,613.8 2729.2,611.3 2729.9,604.9 2730.6,596.0 2731.3,586.5 2732.0,577.6 2732.7,571.2 2733.4,568.7 2733.4,568.7 2734.1,570.5 2734.8,574.9 2735.5,580.6 2736.2,586.4 2736.9,590.8 2737.3,592.2 2738.0,593.7 2738.7,595.2 2739.4,596.5 2740.1,597.7 2740.8,598.8 2741.5,599.7 2742.2,600.5 2742.9,601.2 2743.6,601.6 2744.3,601.9 2745.0,602.0 2745.7,601.7 2746.4,600.7 2747.1,599.2 2747.8,597.3 2748.5,595.1 2749.2,592.7 2749.9,590.1 2750.6,587.6 2751.3,585.1 2752.0,582.8 2752.7,580.8 2753.4,579.2 2754.1,578.1 2754.8,577.5 2755.0,577.5 2755.7,578.2 2756.4,580.1 2757.1,582.6 2757.8,585.2 2758.5,587.4 2758.9,588.3 2759.6,589.6 2760.3,590.9 2761.0,592.2 2761.7,593.4 2762.4,594.4 2763.1,595.3 2763.8,595.9 2764.5,596.2 2764.8,596.2 2765.5,595.2 2766.2,592.6 2766.9,588.8 2767.6,584.4 2768.3,579.9 2769.0,575.8 2769.7,572.6 2770.4,570.9 2770.7,570.7 2771.4,571.8 2772.1,574.6 2772.8,578.4 2773.5,582.6 2774.2,586.4 2774.9,589.2 2775.6,590.3 2775.6,590.3 2776.3,589.0 2777.0,586.0 2777.7,582.1 2778.4,578.4 2779.1,576.0 2779.5,575.6 2780.2,578.5 2780.9,585.7 2781.6,594.8 2782.3,603.3 2783.0,609.0 2783.4,610.0 2784.1,606.5 2784.8,597.9 2785.5,587.0 2786.2,576.7 2786.9,569.9 2787.3,568.7 2788.0,570.1 2788.7,573.8 2789.4,578.7 2790.1,584.2 2790.8,589.1 2791.5,592.8 2792.2,594.2 2792.9,591.4 2793.6,584.5 2794.3,575.8 2795.0,567.3 2795.7,561.4 2796.2,559.9 2800.0,613.8 2800.7,611.3 2801.4,604.8 2802.1,595.9 2802.8,586.0 2803.5,576.9 2804.2,569.9 2804.9,566.8 2805.0,566.7 2805.7,569.9 2806.4,577.8 2807.1,587.8 2807.8,597.5 2808.5,604.3 2809.0,606.0 2812.9,551.0 2817.8,621.7 2818.5,617.5 2819.2,607.3 2819.9,594.3 2820.6,582.1 2821.3,574.0 2821.7,572.6 2822.4,575.6 2823.1,583.0 2823.8,592.3 2824.5,601.1 2825.2,607.0 2825.6,608.0 2826.3,604.7 2827.0,596.1 2827.7,584.4 2828.4,571.6 2829.1,559.9 2829.8,551.3 2830.5,548.0 2830.5,548.0 2835.4,617.8 2836.1,615.1 2836.8,608.4 2837.5,599.8 2838.2,591.6 2838.9,585.8 2839.4,584.4 2840.1,587.6 2840.8,594.6 2841.5,602.0 2842.2,605.9 2842.3,606.0 2843.0,603.1 2843.7,595.5 2844.4,585.1 2845.1,573.9 2845.8,563.5 2846.5,555.9 2847.2,553.0 2847.9,555.3 2848.6,561.4 2849.3,570.0 2850.0,580.0 2850.7,590.2 2851.4,599.4 2852.1,606.3 2852.8,609.8 2853.0,610.0 2853.7,609.6 2854.4,608.7 2855.1,607.1 2855.8,605.2 2856.5,603.1 2857.2,600.8 2857.9,598.4 2858.0,598.1 2858.7,595.1 2859.4,591.0 2860.1,586.1 2860.8,580.7 2861.5,575.3 2862.2,570.1 2862.9,565.5 2863.6,561.9 2864.3,559.6 2864.9,558.9 2865.6,560.2 2866.3,563.9 2867.0,569.4 2867.7,576.2 2868.4,583.8 2869.1,591.7 2869.8,599.4 2870.5,606.4 2871.2,612.1 2871.9,616.1 2872.6,617.8 2872.7,617.8 2873.4,616.8 2874.1,613.9 2874.8,609.6 2875.5,604.2 2876.2,597.9 2876.9,591.2 2877.6,584.5 2878.3,577.9 2879.0,572.0 2879.7,567.0 2880.4,563.2 2881.1,561.1 2881.5,560.8 2882.2,562.4 2882.9,567.0 2883.6,573.7 2884.3,582.1 2885.0,591.5 2885.7,601.2 2886.4,610.7 2887.1,619.3 2887.8,626.3 2888.5,631.2 2889.2,633.3 2889.3,633.3 2890.0,631.2 2890.7,625.5 2891.4,617.0 2892.1,606.5 2892.8,595.0 2893.5,583.3 2894.2,572.1 2894.9,562.4 2895.6,555.0 2896.3,550.7 2896.7,550.0 2897.4,551.5 2898.1,555.5 2898.8,561.8 2899.5,569.8 2900.2,579.2 2900.9,589.5 2901.6,600.3 2902.3,611.1 2903.0,621.6 2903.7,631.3 2904.4,639.8 2905.1,646.6 2905.8,651.3 2906.5,653.6 2906.7,653.7 2914.0,526.0 2923.7,676.5 2930.7,489.0 2940.7,711.5 2947.5,440.0 2957.5,757.0 2963.8,375.6 2973.5,842.0 2980.0,267.2 2990.2,867.0 2995.9,220.8 3005.8,920.0 3010.8,234.2 3021.6,877.0 3025.8,319.7 3036.0,885.5 3040.5,382.6 3050.0,812.0 3057.9,455.9 3064.0,706.0 3071.0,470.0 3080.0,722.0 3089.2,478.0 3096.8,684.3 3104.4,487.3 3113.0,669.0 3120.3,491.9 3128.2,699.5 3136.5,495.0 3144.1,685.8 3153.3,495.0 3161.8,681.2 3171.6,491.9 3180.2,676.6 3188.4,498.0 3197.0,678.2 3205.8,507.2 3214.4,666.0 3223.5,511.8 3232.7,664.4 3241.8,513.3 3250.4,661.4 3260.2,513.3 3267.8,658.3 3268.5,656.5 3269.2,651.6 3269.9,644.0 3270.6,634.2 3271.3,622.8 3272.0,610.2 3272.7,597.0 3273.4,583.7 3274.1,570.8 3274.8,558.8 3275.5,548.3 3276.2,539.7 3276.9,533.5 3277.6,530.3 3277.9,530.0 3284.6,643.0 3285.3,641.8 3286.0,638.3 3286.7,632.9 3287.4,625.9 3288.1,617.7 3288.8,608.6 3289.5,599.0 3290.2,589.1 3290.9,579.4 3291.6,570.1 3292.3,561.6 3293.0,554.3 3293.7,548.4 3294.4,544.3 3295.1,542.4 3295.3,542.3 3296.0,544.4 3296.7,550.0 3297.4,558.4 3298.1,568.9 3298.8,580.5 3299.5,592.5 3300.2,604.1 3300.9,614.6 3301.6,623.0 3302.3,628.6 3303.0,630.7 3303.7,629.7 3304.4,626.8 3305.1,622.4 3305.8,616.7 3306.5,610.1 3307.2,602.7 3307.9,595.0 3308.6,587.1 3309.3,579.4 3310.0,572.1 3310.7,565.6 3311.4,560.1 3312.1,555.9 3312.8,553.3 3313.4,552.5 3314.1,553.4 3314.8,556.1 3315.5,560.1 3316.2,565.3 3316.9,571.4 3317.6,578.1 3318.3,585.1 3319.0,592.1 3319.7,599.0 3320.4,605.4 3321.1,611.0 3321.8,615.6 3322.5,618.8 3323.2,620.5 3323.5,620.7 3324.2,620.1 3324.9,618.2 3325.6,615.4 3326.3,611.6 3327.0,607.2 3327.7,602.2 3328.4,596.9 3329.1,591.3 3329.8,585.6 3330.5,580.0 3331.2,574.7 3331.9,569.8 3332.6,565.5 3333.3,561.9 3334.0,559.1 3334.7,557.5 3335.3,557.0 3336.0,557.8 3336.7,560.0 3337.4,563.5 3338.1,567.9 3338.8,573.0 3339.5,578.6 3340.2,584.4 3340.9,590.3 3341.6,595.9 3342.3,601.0 3343.0,605.4 3343.7,608.9 3344.4,611.1 3345.1,611.9 3345.8,611.5 3346.5,610.5 3347.2,608.9 3347.9,606.8 3348.6,604.2 3349.3,601.2 3350.0,598.0 3350.7,594.6 3351.4,591.0 3352.1,587.3 3352.8,583.7 3353.5,580.1 3354.2,576.7 3354.9,573.6 3355.6,570.7 3356.3,568.3 3357.0,566.3 3357.7,564.8 3358.4,564.0 3358.9,563.8 3359.6,564.3 3360.3,565.8 3361.0,568.1 3361.7,571.0 3362.4,574.5 3363.1,578.3 3363.8,582.4 3364.5,586.6 3365.2,590.7 3365.9,594.7 3366.6,598.4 3367.3,601.5 3368.0,604.1 3368.7,606.0 3369.4,606.9 3369.7,607.0 3370.4,606.7 3371.1,605.8 3371.8,604.4 3372.5,602.5 3373.2,600.3 3373.9,597.7 3374.6,594.9 3375.3,591.9 3376.0,588.8 3376.7,585.7 3377.4,582.5 3378.1,579.5 3378.8,576.5 3379.5,573.8 3380.2,571.4 3380.9,569.3 3381.6,567.7 3382.3,566.5 3383.0,565.8 3383.4,565.7 3384.1,566.2 3384.8,567.7 3385.5,570.0 3386.2,572.9 3386.9,576.4 3387.6,580.3 3388.3,584.4 3389.0,588.6 3389.7,592.7 3390.4,596.7 3391.1,600.3 3391.8,603.5 3392.5,606.1 3393.2,608.0 3393.9,608.9 3394.2,609.0 3394.9,608.7 3395.6,607.7 3396.3,606.1 3397.0,604.1 3397.7,601.6 3398.4,598.8 3399.1,595.8 3399.8,592.6 3400.5,589.3 3401.2,586.0 3401.9,582.8 3402.6,579.7 3403.3,576.9 3404.0,574.3 3404.7,572.1 3405.4,570.4 3406.1,569.3 3406.8,568.7 3407.0,568.7 3407.7,569.0 3408.4,569.7 3409.1,570.8 3409.8,572.3 3410.5,574.2 3411.2,576.3 3411.9,578.6 3412.6,581.1 3413.3,583.8 3414.0,586.5 3414.7,589.2 3415.4,591.9 3416.1,594.6 3416.8,597.1 3417.5,599.4 3418.2,601.5 3418.9,603.4 3419.6,604.9 3420.3,606.0 3421.0,606.7 3421.7,607.0 3422.4,606.6 3423.1,605.4 3423.8,603.7 3424.5,601.3 3425.2,598.6 3425.9,595.4 3426.6,592.1 3427.3,588.6 3428.0,585.1 3428.7,581.6 3429.4,578.3 3430.1,575.3 3430.8,572.7 3431.5,570.5 3432.2,568.9 3432.9,567.9 3433.4,567.7 3434.1,567.9 3434.8,568.5 3435.5,569.4 3436.2,570.6 3436.9,572.1 3437.6,573.8 3438.3,575.6 3439.0,577.7 3439.7,579.8 3440.4,582.1 3441.1,584.4 3441.8,586.6 3442.5,588.9 3443.2,591.1 3443.9,593.2 3444.6,595.2 3445.3,596.9 3446.0,598.5 3446.7,599.8 3447.4,600.9 3448.1,601.6 3448.8,602.0 3449.1,602.0 3449.8,601.8 3450.5,601.4 3451.2,600.6 3451.9,599.6 3452.6,598.4 3453.3,597.0 3454.0,595.4 3454.7,593.7 3455.4,592.0 3456.1,590.1 3456.8,588.2 3457.5,586.3 3458.2,584.4 3458.9,582.6 3459.6,580.9 3460.3,579.3 3461.0,577.8 3461.7,576.5 3462.4,575.4 3463.1,574.5 3463.8,573.9 3464.5,573.6 3464.8,573.6 3465.5,573.8 3466.2,574.4 3466.9,575.4 3467.6,576.6 3468.3,578.2 3469.0,579.9 3469.7,581.8 3470.4,583.8 3471.1,586.0 3471.8,588.1 3472.5,590.3 3473.2,592.4 3473.9,594.4 3474.6,596.2 3475.3,597.9 3476.0,599.4 3476.7,600.5 3477.4,601.4 3478.1,601.9 3478.6,602.0 3479.3,601.7 3480.0,601.0 3480.7,599.9 3481.4,598.3 3482.1,596.5 3482.8,594.5 3483.5,592.2 3484.2,589.9 3484.9,587.5 3485.6,585.1 3486.3,582.7 3487.0,580.4 3487.7,578.3 3488.4,576.5 3489.1,574.9 3489.8,573.7 3490.5,572.9 3491.2,572.6 3491.3,572.6 3492.0,572.8 3492.7,573.2 3493.4,573.9 3494.1,574.9 3494.8,576.1 3495.5,577.4 3496.2,578.9 3496.9,580.6 3497.6,582.3 3498.3,584.1 3499.0,585.9 3499.7,587.7 3500.4,589.5 3501.1,591.3 3501.8,593.0 3502.5,594.5 3503.2,596.0 3503.9,597.2 3504.6,598.3 3505.3,599.1 3506.0,599.7 3506.7,600.0 3507.0,600.0 3507.7,599.8 3508.4,599.1 3509.1,598.1 3509.8,596.8 3510.5,595.2 3511.2,593.3 3511.9,591.4 3512.6,589.3 3513.3,587.1 3514.0,584.9 3514.7,582.8 3515.4,580.8 3516.1,578.9 3516.8,577.3 3517.5,575.9 3518.2,574.7 3518.9,574.0 3519.6,573.6 3519.8,573.6 3520.5,573.8 3521.2,574.3 3521.9,575.1 3522.6,576.1 3523.3,577.4 3524.0,578.8 3524.7,580.4 3525.4,582.1 3526.1,583.8 3526.8,585.6 3527.5,587.4 3528.2,589.2 3528.9,590.9 3529.6,592.5 3530.3,594.0 3531.0,595.3 3531.6,596.2 3532.3,597.2 3533.0,598.3 3533.7,599.4 3534.4,600.5 3535.1,601.4 3535.8,602.2 3536.5,602.7 3537.2,603.0 3537.4,603.0 3538.1,602.5 3538.8,601.3 3539.5,599.3 3540.2,596.6 3540.9,593.5 3541.6,590.1 3542.3,586.3 3542.3,586.3" fill="none" stroke="#3e3e3e" stroke-width="2.6" stroke-linejoin="round"/>
<polyline points="1133.7,733.0 1141.5,458.6 1151.0,760.0 1157.2,420.0 1166.6,809.0 1173.2,323.8 1182.4,921.0 1189.0,206.3 1198.0,945.0 1203.3,225.6 1211.0,958.0 1218.0,369.0 1226.0,889.0 1235.2,450.7" fill="none" stroke="#3e3e3e" stroke-width="3.0" stroke-linejoin="round"/>
<polyline points="2500.2,539.0 2504.6,636.2 2509.0,503.6 2513.5,639.1 2517.3,522.8 2521.4,674.5 2525.8,518.4 2529.7,659.7 2534.1,484.5 2538.5,662.7 2543.0,494.0 2547.4,694.7 2551.0,494.0 2555.6,683.5 2559.0,464.5 2564.0,698.4 2568.0,481.0 2572.7,705.8 2576.0,468.0 2580.8,709.5 2584.5,457.0 2590.0,717.0 2593.0,474.0 2598.0,735.5 2601.0,470.0 2606.8,728.0 2610.0,472.0 2615.4,728.0 2618.0,487.0 2623.5,713.0 2627.0,477.5 2632.0,696.5 2636.0,487.0 2640.0,694.7 2644.0,494.0 2648.8,678.0 2652.5,498.0 2657.7,668.7 2661.0,516.5 2666.2,661.3 2670.0,520.0 2674.7,646.4 2678.5,539.0 2683.0,642.7 2687.0,548.0 2692.2,626.0 2696.0,555.5 2696.7,558.6 2697.4,566.9 2698.1,578.5 2698.8,591.7 2699.5,604.8 2700.2,616.0 2700.9,623.7 2701.5,626.0 2705.0,553.6 2705.7,556.1 2706.4,562.6 2707.1,571.8 2707.8,582.5 2708.5,593.3 2709.2,602.8 2709.9,609.8 2710.6,612.9 2710.7,613.0 2714.0,555.5 2714.7,558.8 2715.4,567.1 2716.1,578.3 2716.8,590.2 2717.5,600.4 2718.2,606.9 2718.6,608.0 2719.3,605.9 2720.0,600.6 2720.7,593.3 2721.4,585.4" fill="none" stroke="#3e3e3e" stroke-width="3.8" stroke-linejoin="round"/>
<polyline points="2940.7,711.5 2947.5,440.0 2957.5,757.0 2963.8,375.6 2973.5,842.0 2980.0,267.2 2990.2,867.0 2995.9,220.8 3005.8,920.0 3010.8,234.2 3021.6,877.0 3025.8,319.7 3036.0,885.5 3040.5,382.6 3050.0,812.0 3057.9,455.9 3064.0,706.0 3071.0,470.0" fill="none" stroke="#3e3e3e" stroke-width="3.2" stroke-linejoin="round"/>
<polyline points="224.0,65.7 232.7,90.2 243.6,120.7 249.0,124.0 254.5,114.2 260.0,105.4 264.4,72.7 269.8,68.4 275.3,72.7 280.7,94.5 287.3,96.7 293.8,92.4 297.1,82.5 302.5,81.4 306.9,103.3 313.4,108.7 322.2,107.6 328.7,103.3 337.4,104.4 345.0,116.4 352.7,117.4 361.4,112.0 370.2,112.0 374.5,122.9 381.0,129.4 389.8,136.0 395.2,143.6 400.7,162.2 406.2,188.3 413.8,190.5 431.2,190.5 435.6,201.4 441.0,205.8 446.5,196.0 455.2,179.6 460.7,190.5 466.1,208.0 472.7,212.3 479.2,199.2 484.7,192.7 490.1,201.4 496.7,223.2 501.0,225.4 509.8,212.3 518.5,214.5 521.8,224.2 527.3,236.2 532.7,230.7 538.2,223.1 543.6,225.3 549.1,241.6 555.6,254.7 561.1,246.0 567.6,241.6 575.3,246.0 580.7,261.3 587.3,264.5 596.0,261.3 602.5,262.3 606.9,272.2 613.4,280.9 618.9,268.9 626.5,265.6 630.9,272.2 634.2,285.3 637.4,294.0 652.7,289.6 657.1,291.8 663.6,307.1 668.0,309.2 672.3,300.5 676.7,289.6 682.2,291.8 688.7,318.0 692.0,321.2 698.5,312.5 707.2,311.4 712.7,322.3 718.2,333.2 722.5,335.4 726.9,324.5 731.2,313.6 735.6,320.2 740.0,337.6 744.3,344.2 753.0,337.6 764.0,339.8 768.7,358.2 777.5,353.8 786.2,352.7 793.8,375.6 803.6,376.7 814.5,377.8 821.1,388.7 826.5,385.4 830.9,374.5 835.3,375.6 840.7,394.2 845.1,407.3 850.5,401.8 856.0,396.4 860.3,400.7 866.9,426.9 873.4,422.5 878.9,416.0 884.3,416.0 887.6,440.0 890.9,459.6 897.4,453.0 902.9,433.4 908.3,435.6 912.7,455.3 916.0,469.4 923.6,464.0 932.3,465.1 934.5,477.1 941.1,486.9 952.0,484.7 956.3,478.2 958.5,505.4 961.8,508.7 971.6,503.2 977.1,506.5 983.7,524.2 992.7,518.4 999.3,519.3 1000.9,532.4 1009.0,534.8 1017.3,536.4 1022.2,542.2 1027.0,550.3 1036.9,550.3 1043.4,556.9 1051.6,558.5 1058.2,563.4 1064.7,571.6 1071.2,578.2 1076.2,586.3 1081.0,595.0 1086.2,622.8 1093.2,612.4 1098.4,629.8 1103.6,661.3 1107.1,647.3 1112.4,624.6 1115.9,675.2 1121.1,698.0 1126.3,687.4 1131.6,689.2 1135.0,731.0 1142.0,738.0 1149.0,741.6 1151.5,748.5 1154.3,780.0 1157.8,790.4 1163.0,781.7 1168.2,804.4 1171.7,849.8 1178.7,844.6 1182.2,880.0 1184.0,923.4 1196.9,926.9 1200.4,963.2 1205.0,971.4 1208.6,950.3 1212.1,973.7 1213.3,1011.2 1220.3,1003.0 1228.5,1011.2 1232.0,1039.4 1236.7,1041.7 1242.6,1048.7 1246.1,1083.9 1247.0,1089.0" fill="none" stroke="#333" stroke-width="1.5" stroke-linejoin="round"/>
<g fill="#8a8a8a" stroke="#222" stroke-width="0.9"><circle cx="224.0" cy="65.7" r="1.7"/><circle cx="227.6" cy="75.8" r="1.7"/><circle cx="231.2" cy="86.0" r="1.7"/><circle cx="234.8" cy="96.1" r="1.7"/><circle cx="238.4" cy="106.1" r="1.7"/><circle cx="242.0" cy="116.2" r="1.7"/><circle cx="245.6" cy="121.9" r="1.7"/><circle cx="249.2" cy="123.6" r="1.7"/><circle cx="252.8" cy="117.2" r="1.7"/><circle cx="256.4" cy="111.2" r="1.7"/><circle cx="260.0" cy="105.4" r="1.7"/><circle cx="263.6" cy="78.6" r="1.7"/><circle cx="267.2" cy="70.5" r="1.7"/><circle cx="270.8" cy="69.2" r="1.7"/><circle cx="274.4" cy="72.0" r="1.7"/><circle cx="278.0" cy="83.6" r="1.7"/><circle cx="281.6" cy="94.8" r="1.7"/><circle cx="285.2" cy="96.0" r="1.7"/><circle cx="288.8" cy="95.7" r="1.7"/><circle cx="292.4" cy="93.3" r="1.7"/><circle cx="296.0" cy="85.8" r="1.7"/><circle cx="299.6" cy="82.0" r="1.7"/><circle cx="303.2" cy="84.9" r="1.7"/><circle cx="306.8" cy="102.8" r="1.7"/><circle cx="310.4" cy="106.2" r="1.7"/><circle cx="314.0" cy="108.6" r="1.7"/><circle cx="317.6" cy="108.2" r="1.7"/><circle cx="321.2" cy="107.7" r="1.7"/><circle cx="324.8" cy="105.9" r="1.7"/><circle cx="328.4" cy="103.5" r="1.7"/><circle cx="332.0" cy="103.7" r="1.7"/><circle cx="335.6" cy="104.2" r="1.7"/><circle cx="339.2" cy="107.2" r="1.7"/><circle cx="342.8" cy="112.9" r="1.7"/><circle cx="346.4" cy="116.6" r="1.7"/><circle cx="350.0" cy="117.0" r="1.7"/><circle cx="353.6" cy="116.8" r="1.7"/><circle cx="357.2" cy="114.6" r="1.7"/><circle cx="360.8" cy="112.4" r="1.7"/><circle cx="364.4" cy="112.0" r="1.7"/><circle cx="368.0" cy="112.0" r="1.7"/><circle cx="371.6" cy="115.5" r="1.7"/><circle cx="375.2" cy="123.6" r="1.7"/><circle cx="378.8" cy="127.2" r="1.7"/><circle cx="382.4" cy="130.5" r="1.7"/><circle cx="386.0" cy="133.2" r="1.7"/><circle cx="389.6" cy="135.9" r="1.7"/><circle cx="393.2" cy="140.8" r="1.7"/><circle cx="396.8" cy="149.0" r="1.7"/><circle cx="400.4" cy="161.2" r="1.7"/><circle cx="404.0" cy="177.9" r="1.7"/><circle cx="407.6" cy="188.7" r="1.7"/><circle cx="411.2" cy="189.7" r="1.7"/><circle cx="414.8" cy="190.5" r="1.7"/><circle cx="418.4" cy="190.5" r="1.7"/><circle cx="422.0" cy="190.5" r="1.7"/><circle cx="425.6" cy="190.5" r="1.7"/><circle cx="429.2" cy="190.5" r="1.7"/><circle cx="432.8" cy="194.5" r="1.7"/><circle cx="436.4" cy="202.1" r="1.7"/><circle cx="440.0" cy="205.0" r="1.7"/><circle cx="443.6" cy="201.2" r="1.7"/><circle cx="447.2" cy="194.7" r="1.7"/><circle cx="450.8" cy="187.9" r="1.7"/><circle cx="454.4" cy="181.1" r="1.7"/><circle cx="458.0" cy="185.1" r="1.7"/><circle cx="461.6" cy="193.4" r="1.7"/><circle cx="465.2" cy="205.1" r="1.7"/><circle cx="468.8" cy="209.8" r="1.7"/><circle cx="472.4" cy="212.1" r="1.7"/><circle cx="476.0" cy="205.6" r="1.7"/><circle cx="479.6" cy="198.7" r="1.7"/><circle cx="483.2" cy="194.5" r="1.7"/><circle cx="486.8" cy="196.1" r="1.7"/><circle cx="490.4" cy="202.4" r="1.7"/><circle cx="494.0" cy="214.3" r="1.7"/><circle cx="497.6" cy="223.7" r="1.7"/><circle cx="501.2" cy="225.1" r="1.7"/><circle cx="504.8" cy="219.7" r="1.7"/><circle cx="508.4" cy="214.4" r="1.7"/><circle cx="512.0" cy="212.9" r="1.7"/><circle cx="515.6" cy="213.8" r="1.7"/><circle cx="519.2" cy="216.6" r="1.7"/><circle cx="522.8" cy="226.4" r="1.7"/><circle cx="526.4" cy="234.2" r="1.7"/><circle cx="530.0" cy="233.4" r="1.7"/><circle cx="533.6" cy="229.5" r="1.7"/><circle cx="537.2" cy="224.5" r="1.7"/><circle cx="540.8" cy="224.2" r="1.7"/><circle cx="544.4" cy="227.7" r="1.7"/><circle cx="548.0" cy="238.3" r="1.7"/><circle cx="551.6" cy="246.6" r="1.7"/><circle cx="555.2" cy="253.9" r="1.7"/><circle cx="558.8" cy="249.6" r="1.7"/><circle cx="562.4" cy="245.1" r="1.7"/><circle cx="566.0" cy="242.7" r="1.7"/><circle cx="569.6" cy="242.7" r="1.7"/><circle cx="573.2" cy="244.8" r="1.7"/><circle cx="576.8" cy="250.3" r="1.7"/><circle cx="580.4" cy="260.5" r="1.7"/><circle cx="584.0" cy="262.9" r="1.7"/><circle cx="587.6" cy="264.4" r="1.7"/><circle cx="591.2" cy="263.1" r="1.7"/><circle cx="594.8" cy="261.7" r="1.7"/><circle cx="598.4" cy="261.7" r="1.7"/><circle cx="602.0" cy="262.2" r="1.7"/><circle cx="605.6" cy="269.3" r="1.7"/><circle cx="609.2" cy="275.3" r="1.7"/><circle cx="612.8" cy="280.1" r="1.7"/><circle cx="616.4" cy="274.4" r="1.7"/><circle cx="620.0" cy="268.4" r="1.7"/><circle cx="623.6" cy="266.9" r="1.7"/><circle cx="627.2" cy="266.7" r="1.7"/><circle cx="630.8" cy="272.1" r="1.7"/><circle cx="634.4" cy="285.8" r="1.7"/><circle cx="638.0" cy="293.8" r="1.7"/><circle cx="641.6" cy="292.8" r="1.7"/><circle cx="645.2" cy="291.8" r="1.7"/><circle cx="648.8" cy="290.7" r="1.7"/><circle cx="652.4" cy="289.7" r="1.7"/><circle cx="656.0" cy="291.3" r="1.7"/><circle cx="659.6" cy="297.7" r="1.7"/><circle cx="663.2" cy="306.2" r="1.7"/><circle cx="666.8" cy="308.6" r="1.7"/><circle cx="670.4" cy="304.3" r="1.7"/><circle cx="674.0" cy="296.3" r="1.7"/><circle cx="677.6" cy="290.0" r="1.7"/><circle cx="681.2" cy="291.4" r="1.7"/><circle cx="684.8" cy="302.3" r="1.7"/><circle cx="688.4" cy="316.8" r="1.7"/><circle cx="692.0" cy="321.2" r="1.7"/><circle cx="695.6" cy="316.4" r="1.7"/><circle cx="699.2" cy="312.4" r="1.7"/><circle cx="702.8" cy="312.0" r="1.7"/><circle cx="706.4" cy="311.5" r="1.7"/><circle cx="710.0" cy="316.9" r="1.7"/><circle cx="713.6" cy="324.1" r="1.7"/><circle cx="717.2" cy="331.2" r="1.7"/><circle cx="720.8" cy="334.5" r="1.7"/><circle cx="724.4" cy="330.7" r="1.7"/><circle cx="728.0" cy="321.7" r="1.7"/><circle cx="731.6" cy="314.2" r="1.7"/><circle cx="735.2" cy="319.6" r="1.7"/><circle cx="738.8" cy="332.9" r="1.7"/><circle cx="742.4" cy="341.3" r="1.7"/><circle cx="746.0" cy="342.9" r="1.7"/><circle cx="749.6" cy="340.2" r="1.7"/><circle cx="753.2" cy="337.6" r="1.7"/><circle cx="756.8" cy="338.4" r="1.7"/><circle cx="760.4" cy="339.1" r="1.7"/><circle cx="764.0" cy="339.8" r="1.7"/><circle cx="767.6" cy="353.9" r="1.7"/><circle cx="771.2" cy="356.9" r="1.7"/><circle cx="774.8" cy="355.1" r="1.7"/><circle cx="778.4" cy="353.7" r="1.7"/><circle cx="782.0" cy="353.2" r="1.7"/><circle cx="785.6" cy="352.8" r="1.7"/><circle cx="789.2" cy="361.7" r="1.7"/><circle cx="792.8" cy="372.6" r="1.7"/><circle cx="796.4" cy="375.9" r="1.7"/><circle cx="800.0" cy="376.3" r="1.7"/><circle cx="803.6" cy="376.7" r="1.7"/><circle cx="807.2" cy="377.1" r="1.7"/><circle cx="810.8" cy="377.4" r="1.7"/><circle cx="814.4" cy="377.8" r="1.7"/><circle cx="818.0" cy="383.6" r="1.7"/><circle cx="821.6" cy="388.4" r="1.7"/><circle cx="825.2" cy="386.2" r="1.7"/><circle cx="828.8" cy="379.7" r="1.7"/><circle cx="832.4" cy="374.9" r="1.7"/><circle cx="836.0" cy="378.0" r="1.7"/><circle cx="839.6" cy="390.4" r="1.7"/><circle cx="843.2" cy="401.6" r="1.7"/><circle cx="846.8" cy="405.6" r="1.7"/><circle cx="850.4" cy="401.9" r="1.7"/><circle cx="854.0" cy="398.4" r="1.7"/><circle cx="857.6" cy="398.0" r="1.7"/><circle cx="861.2" cy="404.3" r="1.7"/><circle cx="864.8" cy="418.6" r="1.7"/><circle cx="868.4" cy="425.9" r="1.7"/><circle cx="872.0" cy="423.4" r="1.7"/><circle cx="875.6" cy="419.9" r="1.7"/><circle cx="879.2" cy="416.0" r="1.7"/><circle cx="882.8" cy="416.0" r="1.7"/><circle cx="886.4" cy="431.3" r="1.7"/><circle cx="890.0" cy="454.3" r="1.7"/><circle cx="893.6" cy="456.9" r="1.7"/><circle cx="897.2" cy="453.2" r="1.7"/><circle cx="900.8" cy="440.9" r="1.7"/><circle cx="904.4" cy="434.0" r="1.7"/><circle cx="908.0" cy="435.5" r="1.7"/><circle cx="911.6" cy="450.4" r="1.7"/><circle cx="915.2" cy="466.0" r="1.7"/><circle cx="918.8" cy="467.4" r="1.7"/><circle cx="922.4" cy="464.9" r="1.7"/><circle cx="926.0" cy="464.3" r="1.7"/><circle cx="929.6" cy="464.8" r="1.7"/><circle cx="933.2" cy="470.0" r="1.7"/><circle cx="936.8" cy="480.5" r="1.7"/><circle cx="940.4" cy="485.9" r="1.7"/><circle cx="944.0" cy="486.3" r="1.7"/><circle cx="947.6" cy="485.6" r="1.7"/><circle cx="951.2" cy="484.9" r="1.7"/><circle cx="954.8" cy="480.5" r="1.7"/><circle cx="958.4" cy="504.2" r="1.7"/><circle cx="962.0" cy="508.6" r="1.7"/><circle cx="965.6" cy="506.6" r="1.7"/><circle cx="969.2" cy="504.5" r="1.7"/><circle cx="972.8" cy="503.9" r="1.7"/><circle cx="976.4" cy="506.1" r="1.7"/><circle cx="980.0" cy="514.3" r="1.7"/><circle cx="983.6" cy="523.9" r="1.7"/><circle cx="987.2" cy="521.9" r="1.7"/><circle cx="990.8" cy="519.6" r="1.7"/><circle cx="994.4" cy="518.6" r="1.7"/><circle cx="998.0" cy="519.1" r="1.7"/><circle cx="1001.6" cy="532.6" r="1.7"/><circle cx="1005.2" cy="533.7" r="1.7"/><circle cx="1008.8" cy="534.7" r="1.7"/><circle cx="1012.4" cy="535.5" r="1.7"/><circle cx="1016.0" cy="536.1" r="1.7"/><circle cx="1019.6" cy="539.1" r="1.7"/><circle cx="1023.2" cy="543.9" r="1.7"/><circle cx="1026.8" cy="550.0" r="1.7"/><circle cx="1030.4" cy="550.3" r="1.7"/><circle cx="1034.0" cy="550.3" r="1.7"/><circle cx="1037.6" cy="551.0" r="1.7"/><circle cx="1041.2" cy="554.7" r="1.7"/><circle cx="1044.8" cy="557.2" r="1.7"/><circle cx="1048.4" cy="557.9" r="1.7"/><circle cx="1052.0" cy="558.8" r="1.7"/><circle cx="1055.6" cy="561.5" r="1.7"/><circle cx="1059.2" cy="564.7" r="1.7"/><circle cx="1062.8" cy="569.2" r="1.7"/><circle cx="1066.4" cy="573.3" r="1.7"/><circle cx="1070.0" cy="577.0" r="1.7"/><circle cx="1073.6" cy="582.1" r="1.7"/><circle cx="1077.2" cy="588.1" r="1.7"/><circle cx="1080.8" cy="594.6" r="1.7"/><circle cx="1084.4" cy="613.2" r="1.7"/><circle cx="1088.0" cy="620.1" r="1.7"/><circle cx="1091.6" cy="614.8" r="1.7"/><circle cx="1095.2" cy="619.1" r="1.7"/><circle cx="1098.8" cy="632.2" r="1.7"/><circle cx="1102.4" cy="654.0" r="1.7"/><circle cx="1106.0" cy="651.7" r="1.7"/><circle cx="1109.6" cy="636.6" r="1.7"/><circle cx="1113.2" cy="636.2" r="1.7"/><circle cx="1116.8" cy="679.1" r="1.7"/><circle cx="1120.4" cy="694.9" r="1.7"/><circle cx="1124.0" cy="692.1" r="1.7"/><circle cx="1127.6" cy="687.8" r="1.7"/><circle cx="1131.2" cy="689.1" r="1.7"/><circle cx="1134.8" cy="728.5" r="1.7"/><circle cx="1138.4" cy="734.4" r="1.7"/><circle cx="1142.0" cy="738.0" r="1.7"/><circle cx="1145.6" cy="739.9" r="1.7"/><circle cx="1149.2" cy="742.2" r="1.7"/><circle cx="1152.8" cy="763.1" r="1.7"/><circle cx="1156.4" cy="786.2" r="1.7"/><circle cx="1160.0" cy="786.7" r="1.7"/><circle cx="1163.6" cy="784.3" r="1.7"/><circle cx="1167.2" cy="800.0" r="1.7"/><circle cx="1170.8" cy="838.1" r="1.7"/><circle cx="1174.4" cy="847.8" r="1.7"/><circle cx="1178.0" cy="845.1" r="1.7"/><circle cx="1181.6" cy="873.9" r="1.7"/><circle cx="1185.2" cy="923.7" r="1.7"/><circle cx="1188.8" cy="924.7" r="1.7"/><circle cx="1192.4" cy="925.7" r="1.7"/><circle cx="1196.0" cy="926.7" r="1.7"/><circle cx="1199.6" cy="954.9" r="1.7"/><circle cx="1203.2" cy="968.2" r="1.7"/><circle cx="1206.8" cy="960.8" r="1.7"/><circle cx="1210.4" cy="962.3" r="1.7"/><circle cx="1214.0" cy="1010.4" r="1.7"/><circle cx="1217.6" cy="1006.2" r="1.7"/><circle cx="1221.2" cy="1003.9" r="1.7"/><circle cx="1224.8" cy="1007.5" r="1.7"/><circle cx="1228.4" cy="1011.1" r="1.7"/><circle cx="1232.0" cy="1039.4" r="1.7"/><circle cx="1235.6" cy="1041.2" r="1.7"/><circle cx="1239.2" cy="1044.7" r="1.7"/><circle cx="1242.8" cy="1050.7" r="1.7"/><circle cx="1246.4" cy="1085.6" r="1.7"/></g>
<polyline points="2122.4,70.6 2128.6,87.8 2132.0,105.0 2136.6,123.3 2142.4,119.8 2147.0,105.0 2151.5,79.8 2156.1,71.8 2161.8,77.5 2166.4,93.5 2171.0,101.5 2177.9,97.0 2184.7,95.8 2191.6,98.1 2195.0,111.8 2199.6,133.6 2207.6,133.6 2214.5,131.3 2219.1,150.8 2223.7,174.8 2228.2,198.8 2234.0,206.9 2246.6,205.7 2255.7,206.9 2262.6,221.7 2268.3,208.0 2272.9,195.4 2277.5,192.0 2283.2,198.8 2286.6,213.7 2291.2,224.0 2296.9,214.9 2305.0,212.6 2310.7,221.7 2315.3,235.5 2319.8,244.6 2324.4,235.5 2340.4,235.5 2345.0,246.9 2349.6,252.7 2356.5,245.8 2365.6,246.9 2369.1,257.2 2373.4,268.9 2379.2,266.6 2383.7,259.8 2388.3,257.5 2392.9,264.3 2396.3,275.8 2403.2,282.7 2411.2,279.2 2418.1,280.4 2421.5,290.7 2427.2,295.3 2431.8,299.8 2436.4,295.3 2441.0,288.4 2446.7,291.8 2450.1,314.7 2455.9,309.0 2460.5,311.3 2465.0,303.3 2469.6,307.9 2474.2,318.2 2479.9,328.5 2485.6,330.8 2490.2,325.0 2495.9,328.5 2499.4,322.7 2502.8,342.2 2507.4,345.6 2513.1,357.1 2518.8,350.2 2523.4,357.1 2526.9,367.4 2528.0,374.3 2533.7,373.1 2538.3,390.3 2542.9,381.1 2546.3,392.6 2550.9,400.6 2555.5,417.8 2561.2,432.7 2565.8,423.5 2571.5,438.4 2576.1,431.5 2579.0,455.3 2595.7,460.8 2605.0,473.8 2614.2,486.8 2629.0,498.0 2640.2,509.0 2655.0,516.5 2668.0,525.8 2681.0,538.8 2696.0,551.8 2711.8,566.7 2729.4,578.5 2743.2,588.3 2757.0,596.2 2766.7,606.0 2778.5,608.9 2786.4,617.8 2798.1,619.7 2808.0,627.6 2817.8,629.5 2827.6,637.4 2837.4,637.4 2845.2,655.0 2855.0,650.1 2862.9,662.9 2874.7,666.8 2880.0,678.4 2888.7,671.4 2895.7,690.6 2909.7,692.4 2913.2,711.6 2921.9,709.8 2927.1,727.3 2942.8,731.4 2946.3,762.2 2953.3,753.4 2962.0,797.0 2970.8,790.0 2981.2,823.2 2990.0,821.5 2995.2,865.1 3003.9,826.7 3009.1,893.0 3019.6,887.8 3023.1,928.0 3035.3,921.0 3038.8,949.0 3043.8,958.5 3049.1,950.0 3052.3,968.0 3057.6,981.8 3063.0,980.8 3067.2,989.3 3070.4,1002.0 3083.1,1003.1 3086.3,1015.9 3091.6,1004.2 3098.0,1006.3 3100.2,1029.7 3115.0,1031.8 3120.3,1042.4 3144.8,1045.6 3149.0,1053.0 3166.0,1056.2 3169.2,1065.8 3185.2,1066.9 3191.6,1072.2 3200.0,1074.3 3202.2,1081.8 3215.0,1082.8" fill="none" stroke="#1e1e1e" stroke-width="2" stroke-linejoin="round"/>
<g fill="#c8c8c8" stroke="#1e1e1e" stroke-width="1.2"><ellipse cx="2122.4" cy="70.6" rx="2.3" ry="3.1"/><ellipse cx="2126.3" cy="81.4" rx="2.3" ry="3.1"/><ellipse cx="2130.2" cy="95.9" rx="2.3" ry="3.1"/><ellipse cx="2134.1" cy="113.4" rx="2.3" ry="3.1"/><ellipse cx="2138.0" cy="122.5" rx="2.3" ry="3.1"/><ellipse cx="2141.9" cy="120.1" rx="2.3" ry="3.1"/><ellipse cx="2145.8" cy="108.9" rx="2.3" ry="3.1"/><ellipse cx="2149.7" cy="89.9" rx="2.3" ry="3.1"/><ellipse cx="2153.6" cy="76.1" rx="2.3" ry="3.1"/><ellipse cx="2157.5" cy="73.2" rx="2.3" ry="3.1"/><ellipse cx="2161.4" cy="77.1" rx="2.3" ry="3.1"/><ellipse cx="2165.3" cy="89.7" rx="2.3" ry="3.1"/><ellipse cx="2169.2" cy="98.4" rx="2.3" ry="3.1"/><ellipse cx="2173.1" cy="100.1" rx="2.3" ry="3.1"/><ellipse cx="2177.0" cy="97.6" rx="2.3" ry="3.1"/><ellipse cx="2180.9" cy="96.5" rx="2.3" ry="3.1"/><ellipse cx="2184.8" cy="95.8" rx="2.3" ry="3.1"/><ellipse cx="2188.7" cy="97.1" rx="2.3" ry="3.1"/><ellipse cx="2192.6" cy="102.1" rx="2.3" ry="3.1"/><ellipse cx="2196.5" cy="118.9" rx="2.3" ry="3.1"/><ellipse cx="2200.4" cy="133.6" rx="2.3" ry="3.1"/><ellipse cx="2204.3" cy="133.6" rx="2.3" ry="3.1"/><ellipse cx="2208.2" cy="133.4" rx="2.3" ry="3.1"/><ellipse cx="2212.1" cy="132.1" rx="2.3" ry="3.1"/><ellipse cx="2216.0" cy="137.7" rx="2.3" ry="3.1"/><ellipse cx="2219.9" cy="155.0" rx="2.3" ry="3.1"/><ellipse cx="2223.8" cy="175.3" rx="2.3" ry="3.1"/><ellipse cx="2227.7" cy="196.1" rx="2.3" ry="3.1"/><ellipse cx="2231.6" cy="203.5" rx="2.3" ry="3.1"/><ellipse cx="2235.5" cy="206.8" rx="2.3" ry="3.1"/><ellipse cx="2239.4" cy="206.4" rx="2.3" ry="3.1"/><ellipse cx="2243.3" cy="206.0" rx="2.3" ry="3.1"/><ellipse cx="2247.2" cy="205.8" rx="2.3" ry="3.1"/><ellipse cx="2251.1" cy="206.3" rx="2.3" ry="3.1"/><ellipse cx="2255.0" cy="206.8" rx="2.3" ry="3.1"/><ellipse cx="2258.9" cy="213.8" rx="2.3" ry="3.1"/><ellipse cx="2262.8" cy="221.2" rx="2.3" ry="3.1"/><ellipse cx="2266.7" cy="211.8" rx="2.3" ry="3.1"/><ellipse cx="2270.6" cy="201.7" rx="2.3" ry="3.1"/><ellipse cx="2274.5" cy="194.2" rx="2.3" ry="3.1"/><ellipse cx="2278.4" cy="193.1" rx="2.3" ry="3.1"/><ellipse cx="2282.3" cy="197.7" rx="2.3" ry="3.1"/><ellipse cx="2286.2" cy="211.9" rx="2.3" ry="3.1"/><ellipse cx="2290.1" cy="221.5" rx="2.3" ry="3.1"/><ellipse cx="2294.0" cy="219.5" rx="2.3" ry="3.1"/><ellipse cx="2297.9" cy="214.6" rx="2.3" ry="3.1"/><ellipse cx="2301.8" cy="213.5" rx="2.3" ry="3.1"/><ellipse cx="2305.7" cy="213.7" rx="2.3" ry="3.1"/><ellipse cx="2309.6" cy="219.9" rx="2.3" ry="3.1"/><ellipse cx="2313.5" cy="230.1" rx="2.3" ry="3.1"/><ellipse cx="2317.4" cy="239.7" rx="2.3" ry="3.1"/><ellipse cx="2321.3" cy="241.6" rx="2.3" ry="3.1"/><ellipse cx="2325.2" cy="235.5" rx="2.3" ry="3.1"/><ellipse cx="2329.1" cy="235.5" rx="2.3" ry="3.1"/><ellipse cx="2333.0" cy="235.5" rx="2.3" ry="3.1"/><ellipse cx="2336.9" cy="235.5" rx="2.3" ry="3.1"/><ellipse cx="2340.8" cy="236.5" rx="2.3" ry="3.1"/><ellipse cx="2344.7" cy="246.2" rx="2.3" ry="3.1"/><ellipse cx="2348.6" cy="251.4" rx="2.3" ry="3.1"/><ellipse cx="2352.5" cy="249.8" rx="2.3" ry="3.1"/><ellipse cx="2356.4" cy="245.9" rx="2.3" ry="3.1"/><ellipse cx="2360.3" cy="246.3" rx="2.3" ry="3.1"/><ellipse cx="2364.2" cy="246.7" rx="2.3" ry="3.1"/><ellipse cx="2368.1" cy="254.3" rx="2.3" ry="3.1"/><ellipse cx="2372.0" cy="265.1" rx="2.3" ry="3.1"/><ellipse cx="2375.9" cy="267.9" rx="2.3" ry="3.1"/><ellipse cx="2379.8" cy="265.7" rx="2.3" ry="3.1"/><ellipse cx="2383.7" cy="259.8" rx="2.3" ry="3.1"/><ellipse cx="2387.6" cy="257.8" rx="2.3" ry="3.1"/><ellipse cx="2391.5" cy="262.2" rx="2.3" ry="3.1"/><ellipse cx="2395.4" cy="272.8" rx="2.3" ry="3.1"/><ellipse cx="2399.3" cy="278.8" rx="2.3" ry="3.1"/><ellipse cx="2403.2" cy="282.7" rx="2.3" ry="3.1"/><ellipse cx="2407.1" cy="281.0" rx="2.3" ry="3.1"/><ellipse cx="2411.0" cy="279.3" rx="2.3" ry="3.1"/><ellipse cx="2414.9" cy="279.8" rx="2.3" ry="3.1"/><ellipse cx="2418.8" cy="282.5" rx="2.3" ry="3.1"/><ellipse cx="2422.7" cy="291.7" rx="2.3" ry="3.1"/><ellipse cx="2426.6" cy="294.8" rx="2.3" ry="3.1"/><ellipse cx="2430.5" cy="298.5" rx="2.3" ry="3.1"/><ellipse cx="2434.4" cy="297.3" rx="2.3" ry="3.1"/><ellipse cx="2438.3" cy="292.4" rx="2.3" ry="3.1"/><ellipse cx="2442.2" cy="289.1" rx="2.3" ry="3.1"/><ellipse cx="2446.1" cy="291.4" rx="2.3" ry="3.1"/><ellipse cx="2450.0" cy="314.0" rx="2.3" ry="3.1"/><ellipse cx="2453.9" cy="311.0" rx="2.3" ry="3.1"/><ellipse cx="2457.8" cy="310.0" rx="2.3" ry="3.1"/><ellipse cx="2461.7" cy="309.2" rx="2.3" ry="3.1"/><ellipse cx="2465.6" cy="303.9" rx="2.3" ry="3.1"/><ellipse cx="2469.5" cy="307.8" rx="2.3" ry="3.1"/><ellipse cx="2473.4" cy="316.4" rx="2.3" ry="3.1"/><ellipse cx="2477.3" cy="323.8" rx="2.3" ry="3.1"/><ellipse cx="2481.2" cy="329.0" rx="2.3" ry="3.1"/><ellipse cx="2485.1" cy="330.6" rx="2.3" ry="3.1"/><ellipse cx="2489.0" cy="326.5" rx="2.3" ry="3.1"/><ellipse cx="2492.9" cy="326.7" rx="2.3" ry="3.1"/><ellipse cx="2496.8" cy="327.0" rx="2.3" ry="3.1"/><ellipse cx="2500.7" cy="330.2" rx="2.3" ry="3.1"/><ellipse cx="2504.6" cy="343.5" rx="2.3" ry="3.1"/><ellipse cx="2508.5" cy="347.8" rx="2.3" ry="3.1"/><ellipse cx="2512.4" cy="355.7" rx="2.3" ry="3.1"/><ellipse cx="2516.3" cy="353.2" rx="2.3" ry="3.1"/><ellipse cx="2520.2" cy="352.3" rx="2.3" ry="3.1"/><ellipse cx="2524.1" cy="359.2" rx="2.3" ry="3.1"/><ellipse cx="2528.0" cy="374.3" rx="2.3" ry="3.1"/><ellipse cx="2531.9" cy="373.5" rx="2.3" ry="3.1"/><ellipse cx="2535.8" cy="381.0" rx="2.3" ry="3.1"/><ellipse cx="2539.7" cy="387.5" rx="2.3" ry="3.1"/><ellipse cx="2543.6" cy="383.5" rx="2.3" ry="3.1"/><ellipse cx="2547.5" cy="394.7" rx="2.3" ry="3.1"/><ellipse cx="2551.4" cy="402.5" rx="2.3" ry="3.1"/><ellipse cx="2555.3" cy="417.1" rx="2.3" ry="3.1"/><ellipse cx="2559.2" cy="427.5" rx="2.3" ry="3.1"/><ellipse cx="2563.1" cy="428.9" rx="2.3" ry="3.1"/><ellipse cx="2567.0" cy="426.6" rx="2.3" ry="3.1"/><ellipse cx="2570.9" cy="436.8" rx="2.3" ry="3.1"/><ellipse cx="2574.8" cy="433.4" rx="2.3" ry="3.1"/><ellipse cx="2578.7" cy="452.8" rx="2.3" ry="3.1"/><ellipse cx="2582.6" cy="456.5" rx="2.3" ry="3.1"/><ellipse cx="2586.5" cy="457.8" rx="2.3" ry="3.1"/><ellipse cx="2590.4" cy="459.1" rx="2.3" ry="3.1"/><ellipse cx="2594.3" cy="460.3" rx="2.3" ry="3.1"/><ellipse cx="2598.2" cy="464.3" rx="2.3" ry="3.1"/><ellipse cx="2602.1" cy="469.7" rx="2.3" ry="3.1"/><ellipse cx="2606.0" cy="475.2" rx="2.3" ry="3.1"/><ellipse cx="2609.9" cy="480.7" rx="2.3" ry="3.1"/><ellipse cx="2613.8" cy="486.2" rx="2.3" ry="3.1"/><ellipse cx="2617.7" cy="489.4" rx="2.3" ry="3.1"/><ellipse cx="2621.6" cy="492.4" rx="2.3" ry="3.1"/><ellipse cx="2625.5" cy="495.4" rx="2.3" ry="3.1"/><ellipse cx="2629.4" cy="498.4" rx="2.3" ry="3.1"/><ellipse cx="2633.3" cy="502.2" rx="2.3" ry="3.1"/><ellipse cx="2637.2" cy="506.1" rx="2.3" ry="3.1"/><ellipse cx="2641.1" cy="509.5" rx="2.3" ry="3.1"/><ellipse cx="2645.0" cy="511.4" rx="2.3" ry="3.1"/><ellipse cx="2648.9" cy="513.4" rx="2.3" ry="3.1"/><ellipse cx="2652.8" cy="515.4" rx="2.3" ry="3.1"/><ellipse cx="2656.7" cy="517.7" rx="2.3" ry="3.1"/><ellipse cx="2660.6" cy="520.5" rx="2.3" ry="3.1"/><ellipse cx="2664.5" cy="523.3" rx="2.3" ry="3.1"/><ellipse cx="2668.4" cy="526.2" rx="2.3" ry="3.1"/><ellipse cx="2672.3" cy="530.1" rx="2.3" ry="3.1"/><ellipse cx="2676.2" cy="534.0" rx="2.3" ry="3.1"/><ellipse cx="2680.1" cy="537.9" rx="2.3" ry="3.1"/><ellipse cx="2684.0" cy="541.4" rx="2.3" ry="3.1"/><ellipse cx="2687.9" cy="544.8" rx="2.3" ry="3.1"/><ellipse cx="2691.8" cy="548.2" rx="2.3" ry="3.1"/><ellipse cx="2695.7" cy="551.5" rx="2.3" ry="3.1"/><ellipse cx="2699.6" cy="555.2" rx="2.3" ry="3.1"/><ellipse cx="2703.5" cy="558.9" rx="2.3" ry="3.1"/><ellipse cx="2707.4" cy="562.6" rx="2.3" ry="3.1"/><ellipse cx="2711.3" cy="566.2" rx="2.3" ry="3.1"/><ellipse cx="2715.2" cy="569.0" rx="2.3" ry="3.1"/><ellipse cx="2719.1" cy="571.6" rx="2.3" ry="3.1"/><ellipse cx="2723.0" cy="574.2" rx="2.3" ry="3.1"/><ellipse cx="2726.9" cy="576.8" rx="2.3" ry="3.1"/><ellipse cx="2730.8" cy="579.5" rx="2.3" ry="3.1"/><ellipse cx="2734.7" cy="582.3" rx="2.3" ry="3.1"/><ellipse cx="2738.6" cy="585.0" rx="2.3" ry="3.1"/><ellipse cx="2742.5" cy="587.8" rx="2.3" ry="3.1"/><ellipse cx="2746.4" cy="590.1" rx="2.3" ry="3.1"/><ellipse cx="2750.3" cy="592.4" rx="2.3" ry="3.1"/><ellipse cx="2754.2" cy="594.6" rx="2.3" ry="3.1"/><ellipse cx="2758.1" cy="597.3" rx="2.3" ry="3.1"/><ellipse cx="2762.0" cy="601.3" rx="2.3" ry="3.1"/><ellipse cx="2765.9" cy="605.2" rx="2.3" ry="3.1"/><ellipse cx="2769.8" cy="606.8" rx="2.3" ry="3.1"/><ellipse cx="2773.7" cy="607.7" rx="2.3" ry="3.1"/><ellipse cx="2777.6" cy="608.7" rx="2.3" ry="3.1"/><ellipse cx="2781.5" cy="612.3" rx="2.3" ry="3.1"/><ellipse cx="2785.4" cy="616.7" rx="2.3" ry="3.1"/><ellipse cx="2789.3" cy="618.3" rx="2.3" ry="3.1"/><ellipse cx="2793.2" cy="618.9" rx="2.3" ry="3.1"/><ellipse cx="2797.1" cy="619.5" rx="2.3" ry="3.1"/><ellipse cx="2801.0" cy="622.0" rx="2.3" ry="3.1"/><ellipse cx="2804.9" cy="625.1" rx="2.3" ry="3.1"/><ellipse cx="2808.8" cy="627.8" rx="2.3" ry="3.1"/><ellipse cx="2812.7" cy="628.5" rx="2.3" ry="3.1"/><ellipse cx="2816.6" cy="629.3" rx="2.3" ry="3.1"/><ellipse cx="2820.5" cy="631.7" rx="2.3" ry="3.1"/><ellipse cx="2824.4" cy="634.8" rx="2.3" ry="3.1"/><ellipse cx="2828.3" cy="637.4" rx="2.3" ry="3.1"/><ellipse cx="2832.2" cy="637.4" rx="2.3" ry="3.1"/><ellipse cx="2836.1" cy="637.4" rx="2.3" ry="3.1"/><ellipse cx="2840.0" cy="643.3" rx="2.3" ry="3.1"/><ellipse cx="2843.9" cy="652.1" rx="2.3" ry="3.1"/><ellipse cx="2847.8" cy="653.7" rx="2.3" ry="3.1"/><ellipse cx="2851.7" cy="651.7" rx="2.3" ry="3.1"/><ellipse cx="2855.6" cy="651.1" rx="2.3" ry="3.1"/><ellipse cx="2859.5" cy="657.4" rx="2.3" ry="3.1"/><ellipse cx="2863.4" cy="663.1" rx="2.3" ry="3.1"/><ellipse cx="2867.3" cy="664.4" rx="2.3" ry="3.1"/><ellipse cx="2871.2" cy="665.6" rx="2.3" ry="3.1"/><ellipse cx="2875.1" cy="667.7" rx="2.3" ry="3.1"/><ellipse cx="2879.0" cy="676.2" rx="2.3" ry="3.1"/><ellipse cx="2882.9" cy="676.1" rx="2.3" ry="3.1"/><ellipse cx="2886.8" cy="672.9" rx="2.3" ry="3.1"/><ellipse cx="2890.7" cy="676.9" rx="2.3" ry="3.1"/><ellipse cx="2894.6" cy="687.6" rx="2.3" ry="3.1"/><ellipse cx="2898.5" cy="691.0" rx="2.3" ry="3.1"/><ellipse cx="2902.4" cy="691.5" rx="2.3" ry="3.1"/><ellipse cx="2906.3" cy="692.0" rx="2.3" ry="3.1"/><ellipse cx="2910.2" cy="695.1" rx="2.3" ry="3.1"/><ellipse cx="2914.1" cy="711.4" rx="2.3" ry="3.1"/><ellipse cx="2918.0" cy="710.6" rx="2.3" ry="3.1"/><ellipse cx="2921.9" cy="709.8" rx="2.3" ry="3.1"/><ellipse cx="2925.8" cy="722.9" rx="2.3" ry="3.1"/><ellipse cx="2929.7" cy="728.0" rx="2.3" ry="3.1"/><ellipse cx="2933.6" cy="729.0" rx="2.3" ry="3.1"/><ellipse cx="2937.5" cy="730.0" rx="2.3" ry="3.1"/><ellipse cx="2941.4" cy="731.0" rx="2.3" ry="3.1"/><ellipse cx="2945.3" cy="753.4" rx="2.3" ry="3.1"/><ellipse cx="2949.2" cy="758.6" rx="2.3" ry="3.1"/><ellipse cx="2953.1" cy="753.7" rx="2.3" ry="3.1"/><ellipse cx="2957.0" cy="771.9" rx="2.3" ry="3.1"/><ellipse cx="2960.9" cy="791.5" rx="2.3" ry="3.1"/><ellipse cx="2964.8" cy="794.8" rx="2.3" ry="3.1"/><ellipse cx="2968.7" cy="791.7" rx="2.3" ry="3.1"/><ellipse cx="2972.6" cy="795.7" rx="2.3" ry="3.1"/><ellipse cx="2976.5" cy="808.2" rx="2.3" ry="3.1"/><ellipse cx="2980.4" cy="820.6" rx="2.3" ry="3.1"/><ellipse cx="2984.3" cy="822.6" rx="2.3" ry="3.1"/><ellipse cx="2988.2" cy="821.8" rx="2.3" ry="3.1"/><ellipse cx="2992.1" cy="839.1" rx="2.3" ry="3.1"/><ellipse cx="2996.0" cy="861.6" rx="2.3" ry="3.1"/><ellipse cx="2999.9" cy="844.4" rx="2.3" ry="3.1"/><ellipse cx="3003.8" cy="827.1" rx="2.3" ry="3.1"/><ellipse cx="3007.7" cy="875.2" rx="2.3" ry="3.1"/><ellipse cx="3011.6" cy="891.8" rx="2.3" ry="3.1"/><ellipse cx="3015.5" cy="889.8" rx="2.3" ry="3.1"/><ellipse cx="3019.4" cy="887.9" rx="2.3" ry="3.1"/><ellipse cx="3023.3" cy="927.9" rx="2.3" ry="3.1"/><ellipse cx="3027.2" cy="925.6" rx="2.3" ry="3.1"/><ellipse cx="3031.1" cy="923.4" rx="2.3" ry="3.1"/><ellipse cx="3035.0" cy="921.2" rx="2.3" ry="3.1"/><ellipse cx="3038.9" cy="949.2" rx="2.3" ry="3.1"/><ellipse cx="3042.8" cy="956.6" rx="2.3" ry="3.1"/><ellipse cx="3046.7" cy="953.8" rx="2.3" ry="3.1"/><ellipse cx="3050.6" cy="958.4" rx="2.3" ry="3.1"/><ellipse cx="3054.5" cy="973.7" rx="2.3" ry="3.1"/><ellipse cx="3058.4" cy="981.7" rx="2.3" ry="3.1"/><ellipse cx="3062.3" cy="980.9" rx="2.3" ry="3.1"/><ellipse cx="3066.2" cy="987.3" rx="2.3" ry="3.1"/><ellipse cx="3070.1" cy="1000.8" rx="2.3" ry="3.1"/><ellipse cx="3074.0" cy="1002.3" rx="2.3" ry="3.1"/><ellipse cx="3077.9" cy="1002.6" rx="2.3" ry="3.1"/><ellipse cx="3081.8" cy="1003.0" rx="2.3" ry="3.1"/><ellipse cx="3085.7" cy="1013.5" rx="2.3" ry="3.1"/><ellipse cx="3089.6" cy="1008.6" rx="2.3" ry="3.1"/><ellipse cx="3093.5" cy="1004.8" rx="2.3" ry="3.1"/><ellipse cx="3097.4" cy="1006.1" rx="2.3" ry="3.1"/><ellipse cx="3101.3" cy="1029.9" rx="2.3" ry="3.1"/><ellipse cx="3105.2" cy="1030.4" rx="2.3" ry="3.1"/><ellipse cx="3109.1" cy="1031.0" rx="2.3" ry="3.1"/><ellipse cx="3113.0" cy="1031.5" rx="2.3" ry="3.1"/><ellipse cx="3116.9" cy="1035.6" rx="2.3" ry="3.1"/><ellipse cx="3120.8" cy="1042.5" rx="2.3" ry="3.1"/><ellipse cx="3124.7" cy="1043.0" rx="2.3" ry="3.1"/><ellipse cx="3128.6" cy="1043.5" rx="2.3" ry="3.1"/><ellipse cx="3132.5" cy="1044.0" rx="2.3" ry="3.1"/><ellipse cx="3136.4" cy="1044.5" rx="2.3" ry="3.1"/><ellipse cx="3140.3" cy="1045.0" rx="2.3" ry="3.1"/><ellipse cx="3144.2" cy="1045.5" rx="2.3" ry="3.1"/><ellipse cx="3148.1" cy="1051.4" rx="2.3" ry="3.1"/><ellipse cx="3152.0" cy="1053.6" rx="2.3" ry="3.1"/><ellipse cx="3155.9" cy="1054.3" rx="2.3" ry="3.1"/><ellipse cx="3159.8" cy="1055.0" rx="2.3" ry="3.1"/><ellipse cx="3163.7" cy="1055.8" rx="2.3" ry="3.1"/><ellipse cx="3167.6" cy="1061.0" rx="2.3" ry="3.1"/><ellipse cx="3171.5" cy="1066.0" rx="2.3" ry="3.1"/><ellipse cx="3175.4" cy="1066.2" rx="2.3" ry="3.1"/><ellipse cx="3179.3" cy="1066.5" rx="2.3" ry="3.1"/><ellipse cx="3183.2" cy="1066.8" rx="2.3" ry="3.1"/><ellipse cx="3187.1" cy="1068.5" rx="2.3" ry="3.1"/><ellipse cx="3191.0" cy="1071.7" rx="2.3" ry="3.1"/><ellipse cx="3194.9" cy="1073.0" rx="2.3" ry="3.1"/><ellipse cx="3198.8" cy="1074.0" rx="2.3" ry="3.1"/><ellipse cx="3202.7" cy="1081.8" rx="2.3" ry="3.1"/><ellipse cx="3206.6" cy="1082.1" rx="2.3" ry="3.1"/><ellipse cx="3210.5" cy="1082.4" rx="2.3" ry="3.1"/><ellipse cx="3214.4" cy="1082.8" rx="2.3" ry="3.1"/></g>
<polyline points="1252.5,1087 1256.6,1066 1259.5,1087" fill="none" stroke="#262626" stroke-width="1.8"/><circle cx="1256.6" cy="1068" r="1.8" fill="#8a8a8a" stroke="#222" stroke-width="0.9"/>
<path d="M1086,76.6H1197.2M1086,144.8H1197.2" stroke="#161616" stroke-width="2.6"/>
<circle cx="1142" cy="144.8" r="6.2" fill="#161616"/>
<path d="M2991.6,76.6H3102.5M2991.6,145.1H3102.5" stroke="#161616" stroke-width="2.6"/>
<circle cx="3047" cy="145.1" r="6.2" fill="#161616"/>
<line x1="255.6" y1="538" x2="328.6" y2="484" stroke="#161616" stroke-width="3"/>
<path d="M465,564.5C487.5,564.4 557.5,564.4 600.0,564.0C642.5,563.6 684.0,563.3 720.0,561.9C756.0,560.5 783.5,558.8 816.0,555.8C848.5,552.8 890.3,547.5 915.0,543.6C939.7,539.7 949.8,535.5 964.0,532.2C978.2,528.9 989.5,526.8 1000.0,524.0C1010.5,521.2 1019.8,517.8 1027.0,515.2C1034.2,512.6 1037.5,511.3 1043.0,508.6C1048.5,505.9 1055.5,502.1 1060.0,499.0C1064.5,495.9 1066.5,493.7 1070.0,490.0C1073.5,486.3 1076.2,483.5 1081.0,477.0C1085.8,470.5 1094.7,458.2 1099.0,451.0C1103.3,443.8 1104.2,441.7 1107.0,434.0C1109.8,426.3 1113.3,413.0 1116.0,405.0C1118.7,397.0 1119.6,396.8 1123.0,386.0C1126.4,375.2 1132.4,356.4 1136.6,340.5C1140.8,324.6 1145.3,303.6 1148.4,290.5C1151.5,277.4 1153.9,266.8 1155.0,262.0" fill="none" stroke="#161616" stroke-width="3" stroke-dasharray="33 17" stroke-dashoffset="18"/>
<polygon points="1161,237.4 1145.4,266.9 1155,259.5 1163.5,269.8" fill="#161616"/>
<line x1="619.3" y1="267.3" x2="684.5" y2="267.3" stroke="#161616" stroke-width="3"/><polygon points="716.1,267.3 675.1,257.8 683.5,267.3 675.1,276.8" fill="#161616"/>
<line x1="668.2" y1="725.4" x2="715.5" y2="725.4" stroke="#161616" stroke-width="3.8"/><polygon points="748.9,725.4 706.1,716.0 714.5,725.4 706.1,734.8" fill="#161616"/>
<line x1="2468.5" y1="303.7" x2="2529.6" y2="303.7" stroke="#161616" stroke-width="3"/><polygon points="2561.2,303.7 2520.2,294.2 2528.6,303.7 2520.2,313.2" fill="#161616"/>
<line x1="2654.7" y1="814.8" x2="2757.5" y2="916.7" stroke="#161616" stroke-width="3"/>
<rect x="2745" y="736" width="160" height="75" fill="#fff"/>
<g fill="#161616"><text x="117.8" y="110.7" font-size="63" >50</text><text x="117.8" y="216.7" font-size="63" >40</text><text x="117.8" y="321.7" font-size="63" >30</text><text x="117.8" y="430.0" font-size="63" >20</text><text x="117.8" y="536.9" font-size="63" >10</text><text x="149.3" y="643.7" font-size="63" >0</text><text x="117.1" y="756.8" font-size="63" >10</text><text transform="translate(78.6,751.5) scale(1.111,1)" font-size="63">−</text><text x="117.2" y="863.2" font-size="63" >20</text><text transform="translate(78.9,857.4) scale(1.094,1)" font-size="63">−</text><text x="120.0" y="970.2" font-size="63" >30</text><text transform="translate(81.5,964.2) scale(1.098,1)" font-size="63">−</text><text x="120.1" y="1076.5" font-size="63" >40</text><text transform="translate(81.8,1071.3) scale(1.084,1)" font-size="63">−</text><text x="190.2" y="1173.2" font-size="63" >0</text><text x="413.9" y="1173.2" font-size="63" >50</text><text x="638.8" y="1173.2" font-size="63" >100</text><text x="878.8" y="1173.2" font-size="63" >150</text><text x="1118.2" y="1173.2" font-size="63" >200</text><text x="1358.8" y="1173.2" font-size="63" >250</text><text x="1598.1" y="1173.2" font-size="63" >300</text><text x="2096.2" y="1173.2" font-size="63" >0</text><text x="2319.5" y="1173.2" font-size="63" >50</text><text x="2544.8" y="1173.2" font-size="63" >100</text><text x="2784.9" y="1173.2" font-size="63" >150</text><text x="3024.8" y="1173.2" font-size="63" >200</text><text x="3264.3" y="1173.2" font-size="63" >250</text><text x="3504.4" y="1173.2" font-size="63" >300</text><text x="1666.2" y="52.8" font-size="63" >550</text><text x="3572.2" y="52.8" font-size="63" >550</text><text x="1666.2" y="148.1" font-size="63" >500</text><text x="3572.2" y="148.1" font-size="63" >500</text><text x="1668.7" y="243.4" font-size="63" >450</text><text x="3574.7" y="243.4" font-size="63" >450</text><text x="1668.7" y="338.8" font-size="63" >400</text><text x="3574.7" y="338.8" font-size="63" >400</text><text x="1666.8" y="434.1" font-size="63" >350</text><text x="3572.8" y="434.1" font-size="63" >350</text><text x="1666.8" y="529.4" font-size="63" >300</text><text x="3572.8" y="529.4" font-size="63" >300</text><text x="1667.5" y="624.7" font-size="63" >250</text><text x="3573.5" y="624.7" font-size="63" >250</text><text x="1667.5" y="720.1" font-size="63" >200</text><text x="3573.5" y="720.1" font-size="63" >200</text><text x="1664.3" y="815.4" font-size="63" >150</text><text x="3570.3" y="815.4" font-size="63" >150</text><text x="1664.3" y="910.7" font-size="63" >100</text><text x="3570.3" y="910.7" font-size="63" >100</text><text x="1666.2" y="1006.1" font-size="63" >50</text><text x="3572.2" y="1006.1" font-size="63" >50</text><text x="1667.5" y="1101.4" font-size="63" >0</text><text x="3573.5" y="1101.4" font-size="63" >0</text><text x="2022.8" y="110.7" font-size="63" >30</text><text x="2022.8" y="194.5" font-size="63" >25</text><text x="2022.8" y="277.7" font-size="63" >20</text><text x="2022.8" y="361.5" font-size="63" >15</text><text x="2022.8" y="444.7" font-size="63" >10</text><text x="2054.3" y="528.0" font-size="63" >5</text><text x="2054.3" y="611.7" font-size="63" >0</text><text x="2052.5" y="701.7" font-size="63" >5</text><text transform="translate(2015.1,694.6) scale(1.125,1)" font-size="63">−</text><text x="2025.3" y="784.6" font-size="63" >10</text><text transform="translate(1987.6,777.7) scale(1.081,1)" font-size="63">−</text><text x="2025.3" y="868.5" font-size="63" >15</text><text transform="translate(1987.6,861.3) scale(1.081,1)" font-size="63">−</text><text x="2025.3" y="952.1" font-size="63" >20</text><text transform="translate(1987.6,945.2) scale(1.081,1)" font-size="63">−</text><text x="2025.3" y="1035.7" font-size="63" >25</text><text transform="translate(1987.6,1028.5) scale(1.081,1)" font-size="63">−</text><text x="2025.3" y="1118.7" font-size="63" >30</text><text transform="translate(1987.6,1111.8) scale(1.081,1)" font-size="63">−</text><text transform="translate(52.4,681.4) rotate(-90)" font-size="64.7" ><tspan font-weight="600" font-size="97%" dy="0.11em">压力</tspan><tspan dy="-0.11em">/kPa</tspan></text><text transform="translate(1956.0,682.9) rotate(-90)" font-size="64.0" ><tspan font-weight="600" font-size="97%" dy="0.11em">压力</tspan><tspan dy="-0.11em">/kPa</tspan></text><text transform="translate(1822.9,807.9) rotate(-90)" font-size="64.0" ><tspan font-weight="600" font-size="97%" dy="0.11em">火焰锋面位置</tspan><tspan dy="-0.11em">/mm</tspan></text><text transform="translate(3729.0,801.9) rotate(-90)" font-size="63.4" ><tspan font-weight="600" font-size="97%" dy="0.11em">火焰锋面位置</tspan><tspan dy="-0.11em">/mm</tspan></text><text x="817.9" y="1247.8" font-size="63.0" ><tspan font-weight="600" font-size="97%" dy="0.05em">时间</tspan><tspan dy="-0.05em">/ms</tspan></text><text x="2723.9" y="1247.8" font-size="63.0" ><tspan font-weight="600" font-size="97%" dy="0.05em">时间</tspan><tspan dy="-0.05em">/ms</tspan></text><text x="1221.7" y="96.8" font-size="59.5" ><tspan font-weight="600">压力</tspan></text><text x="1222.1" y="165.4" font-size="62.1" ><tspan font-weight="600">火焰锋面位置</tspan></text><text x="3125.8" y="96.9" font-size="60.7" ><tspan font-weight="600">压力</tspan></text><text x="3127.3" y="165.3" font-size="62.3" ><tspan font-weight="600">火焰锋面位置</tspan></text><text x="258.7" y="463.5" font-size="60.7" ><tspan font-weight="600">破膜压力</tspan></text><text x="480.6" y="746.0" font-size="63.6" ><tspan font-weight="600" font-size="97%" dy="0.11em">阶段</tspan><tspan dy="-0.11em">A</tspan></text><text x="778.9" y="745.9" font-size="64.0" ><tspan font-weight="600" font-size="97%" dy="0.11em">阶段</tspan><tspan dy="-0.11em">C</tspan></text><text x="1305.1" y="762.1" font-size="63.9" ><tspan font-weight="600" font-size="97%" dy="0.11em">阶段</tspan><tspan dy="-0.11em">D</tspan></text><text x="2317.9" y="788.0" font-size="63.6" ><tspan font-weight="600" font-size="97%" dy="0.11em">阶段</tspan><tspan dy="-0.11em">A</tspan></text><text x="2519.2" y="787.9" font-size="63.9" ><tspan font-weight="600" font-size="97%" dy="0.11em">阶段</tspan><tspan dy="-0.11em">B</tspan></text><text x="2734.9" y="787.8" font-size="64.4" ><tspan font-weight="600" font-size="97%" dy="0.11em">阶段</tspan><tspan dy="-0.11em">C</tspan></text><text x="3086.8" y="801.4" font-size="64.4" ><tspan font-weight="600" font-size="97%" dy="0.11em">阶段</tspan><tspan dy="-0.11em">D</tspan></text><text x="869.7" y="1025.8" font-size="62.5" >179 ms</text><text x="2874.9" y="1051.8" font-size="62.5" >159 ms</text><text x="794.3" y="1316.6" font-size="62.3" >(a) <tspan font-style="italic">γ</tspan>=30%</text><text x="2697.7" y="1316.6" font-size="62.6" >(b) <tspan font-style="italic">γ</tspan>=50%</text></g></svg></body></html>
